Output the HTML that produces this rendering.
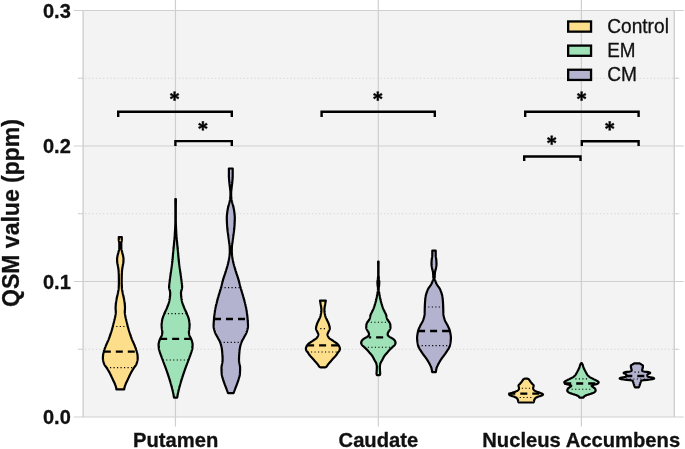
<!DOCTYPE html>
<html><head><meta charset="utf-8"><title>QSM violin plot</title>
<style>
html,body{margin:0;padding:0;background:#fff;}
body{width:685px;height:449px;overflow:hidden;font-family:"Liberation Sans",sans-serif;}
svg{display:block;will-change:opacity;}
</style></head>
<body>
<svg width="685" height="449" viewBox="0 0 685 449">
<rect x="83.1" y="10.5" width="591.1999999999999" height="406.5" fill="#F3F3F3"/>
<line x1="78.1" y1="349.25" x2="679.3" y2="349.25" stroke="#CFCFCF" stroke-width="1" stroke-dasharray="1 2.6"/>
<line x1="78.1" y1="349.25" x2="83.1" y2="349.25" stroke="#CFCFCF" stroke-width="1"/>
<line x1="674.3" y1="349.25" x2="679.3" y2="349.25" stroke="#CFCFCF" stroke-width="1"/>
<line x1="78.1" y1="213.75" x2="679.3" y2="213.75" stroke="#CFCFCF" stroke-width="1" stroke-dasharray="1 2.6"/>
<line x1="78.1" y1="213.75" x2="83.1" y2="213.75" stroke="#CFCFCF" stroke-width="1"/>
<line x1="674.3" y1="213.75" x2="679.3" y2="213.75" stroke="#CFCFCF" stroke-width="1"/>
<line x1="78.1" y1="78.25" x2="679.3" y2="78.25" stroke="#CFCFCF" stroke-width="1" stroke-dasharray="1 2.6"/>
<line x1="78.1" y1="78.25" x2="83.1" y2="78.25" stroke="#CFCFCF" stroke-width="1"/>
<line x1="674.3" y1="78.25" x2="679.3" y2="78.25" stroke="#CFCFCF" stroke-width="1"/>
<line x1="73.6" y1="417.00" x2="683.8" y2="417.00" stroke="#CFCFCF" stroke-width="1.2"/>
<line x1="73.6" y1="281.50" x2="683.8" y2="281.50" stroke="#CFCFCF" stroke-width="1.2"/>
<line x1="73.6" y1="146.00" x2="683.8" y2="146.00" stroke="#CFCFCF" stroke-width="1.2"/>
<line x1="73.6" y1="10.50" x2="683.8" y2="10.50" stroke="#CFCFCF" stroke-width="1.2"/>
<line x1="175.45" y1="0" x2="175.45" y2="426.5" stroke="#CFCFCF" stroke-width="1.2"/>
<line x1="378.3" y1="0" x2="378.3" y2="426.5" stroke="#CFCFCF" stroke-width="1.2"/>
<line x1="581.4" y1="0" x2="581.4" y2="426.5" stroke="#CFCFCF" stroke-width="1.2"/>
<line x1="83.1" y1="10.5" x2="83.1" y2="417.0" stroke="#CFCFCF" stroke-width="1.4"/>
<line x1="674.3" y1="10.5" x2="674.3" y2="417.0" stroke="#CFCFCF" stroke-width="1.4"/>
<path d="M118.80,237.10 L118.80,237.43 L118.80,237.77 L118.80,238.10 L118.80,238.43 L118.80,238.77 L118.80,239.10 L118.80,239.43 L118.80,239.77 L118.80,240.10 L118.83,240.43 L118.88,240.77 L118.95,241.10 L119.03,241.43 L119.12,241.77 L119.19,242.10 L119.25,242.43 L119.29,242.77 L119.30,243.10 L119.30,243.43 L119.30,243.77 L119.30,244.10 L119.30,244.43 L119.30,244.76 L119.30,245.10 L119.30,245.43 L119.30,245.76 L119.30,246.10 L119.30,246.43 L119.30,246.76 L119.30,247.10 L119.30,247.43 L119.30,247.76 L119.30,248.10 L119.28,248.43 L119.25,248.76 L119.20,249.10 L119.14,249.43 L119.07,249.76 L118.99,250.10 L118.90,250.43 L118.81,250.76 L118.72,251.10 L118.64,251.43 L118.55,251.76 L118.48,252.10 L118.40,252.43 L118.31,252.76 L118.22,253.10 L118.13,253.43 L118.04,253.76 L117.95,254.10 L117.86,254.43 L117.77,254.76 L117.69,255.10 L117.61,255.43 L117.54,255.76 L117.48,256.10 L117.42,256.43 L117.36,256.76 L117.30,257.10 L117.25,257.43 L117.20,257.76 L117.15,258.10 L117.12,258.43 L117.10,258.76 L117.10,259.10 L117.10,259.43 L117.11,259.76 L117.12,260.09 L117.13,260.43 L117.14,260.76 L117.15,261.09 L117.17,261.43 L117.19,261.76 L117.21,262.09 L117.23,262.43 L117.27,262.76 L117.32,263.09 L117.38,263.43 L117.45,263.76 L117.52,264.09 L117.59,264.43 L117.66,264.76 L117.73,265.09 L117.80,265.43 L117.86,265.76 L117.92,266.09 L117.97,266.43 L118.03,266.76 L118.08,267.09 L118.14,267.43 L118.20,267.76 L118.25,268.09 L118.30,268.43 L118.35,268.76 L118.40,269.09 L118.44,269.43 L118.48,269.76 L118.51,270.09 L118.54,270.43 L118.56,270.76 L118.59,271.09 L118.62,271.43 L118.64,271.76 L118.66,272.09 L118.68,272.43 L118.71,272.76 L118.72,273.09 L118.74,273.43 L118.76,273.76 L118.77,274.09 L118.78,274.43 L118.79,274.76 L118.80,275.09 L118.81,275.42 L118.82,275.76 L118.83,276.09 L118.83,276.42 L118.84,276.76 L118.85,277.09 L118.85,277.42 L118.86,277.76 L118.86,278.09 L118.87,278.42 L118.87,278.76 L118.88,279.09 L118.88,279.42 L118.89,279.76 L118.89,280.09 L118.89,280.42 L118.90,280.76 L118.90,281.09 L118.90,281.42 L118.90,281.76 L118.90,282.09 L118.90,282.42 L118.90,282.76 L118.89,283.09 L118.89,283.42 L118.88,283.76 L118.87,284.09 L118.86,284.42 L118.85,284.76 L118.84,285.09 L118.83,285.42 L118.81,285.76 L118.80,286.09 L118.78,286.42 L118.77,286.76 L118.75,287.09 L118.73,287.42 L118.71,287.76 L118.69,288.09 L118.67,288.42 L118.64,288.76 L118.60,289.09 L118.56,289.42 L118.51,289.76 L118.45,290.09 L118.39,290.42 L118.33,290.75 L118.27,291.09 L118.21,291.42 L118.14,291.75 L118.08,292.09 L118.01,292.42 L117.95,292.75 L117.88,293.09 L117.82,293.42 L117.75,293.75 L117.68,294.09 L117.61,294.42 L117.53,294.75 L117.45,295.09 L117.37,295.42 L117.30,295.75 L117.22,296.09 L117.14,296.42 L117.06,296.75 L116.99,297.09 L116.92,297.42 L116.85,297.75 L116.78,298.09 L116.72,298.42 L116.65,298.75 L116.59,299.09 L116.52,299.42 L116.46,299.75 L116.39,300.09 L116.34,300.42 L116.28,300.75 L116.22,301.09 L116.18,301.42 L116.13,301.75 L116.09,302.09 L116.05,302.42 L116.01,302.75 L115.97,303.09 L115.93,303.42 L115.90,303.75 L115.86,304.09 L115.82,304.42 L115.79,304.75 L115.76,305.09 L115.72,305.42 L115.70,305.75 L115.67,306.08 L115.65,306.42 L115.63,306.75 L115.62,307.08 L115.61,307.42 L115.60,307.75 L115.60,308.08 L115.61,308.42 L115.62,308.75 L115.64,309.08 L115.66,309.42 L115.68,309.75 L115.71,310.08 L115.73,310.42 L115.75,310.75 L115.77,311.08 L115.79,311.42 L115.80,311.75 L115.80,312.08 L115.79,312.42 L115.77,312.75 L115.74,313.08 L115.71,313.42 L115.67,313.75 L115.62,314.08 L115.57,314.42 L115.51,314.75 L115.45,315.08 L115.40,315.42 L115.34,315.75 L115.29,316.08 L115.23,316.42 L115.16,316.75 L115.10,317.08 L115.02,317.42 L114.95,317.75 L114.87,318.08 L114.79,318.42 L114.71,318.75 L114.62,319.08 L114.54,319.42 L114.46,319.75 L114.38,320.08 L114.30,320.42 L114.22,320.75 L114.14,321.08 L114.05,321.41 L113.97,321.75 L113.89,322.08 L113.80,322.41 L113.72,322.75 L113.63,323.08 L113.55,323.41 L113.46,323.75 L113.38,324.08 L113.30,324.41 L113.22,324.75 L113.13,325.08 L113.05,325.41 L112.97,325.75 L112.89,326.08 L112.81,326.41 L112.73,326.75 L112.64,327.08 L112.56,327.41 L112.47,327.75 L112.38,328.08 L112.29,328.41 L112.19,328.75 L112.09,329.08 L112.00,329.41 L111.90,329.75 L111.80,330.08 L111.69,330.41 L111.59,330.75 L111.49,331.08 L111.38,331.41 L111.28,331.75 L111.18,332.08 L111.07,332.41 L110.97,332.75 L110.86,333.08 L110.76,333.41 L110.65,333.75 L110.54,334.08 L110.43,334.41 L110.33,334.75 L110.21,335.08 L110.10,335.41 L109.99,335.75 L109.87,336.08 L109.76,336.41 L109.64,336.74 L109.52,337.08 L109.40,337.41 L109.28,337.74 L109.15,338.08 L109.03,338.41 L108.90,338.74 L108.77,339.08 L108.64,339.41 L108.50,339.74 L108.37,340.08 L108.23,340.41 L108.08,340.74 L107.93,341.08 L107.78,341.41 L107.63,341.74 L107.47,342.08 L107.32,342.41 L107.16,342.74 L107.01,343.08 L106.86,343.41 L106.71,343.74 L106.57,344.08 L106.43,344.41 L106.29,344.74 L106.15,345.08 L106.01,345.41 L105.87,345.74 L105.74,346.08 L105.61,346.41 L105.47,346.74 L105.35,347.08 L105.22,347.41 L105.09,347.74 L104.97,348.08 L104.85,348.41 L104.73,348.74 L104.61,349.08 L104.50,349.41 L104.38,349.74 L104.28,350.08 L104.17,350.41 L104.07,350.74 L103.98,351.08 L103.89,351.41 L103.80,351.74 L103.70,352.07 L103.61,352.41 L103.53,352.74 L103.44,353.07 L103.36,353.41 L103.29,353.74 L103.23,354.07 L103.17,354.41 L103.13,354.74 L103.09,355.07 L103.06,355.41 L103.03,355.74 L103.00,356.07 L102.98,356.41 L102.96,356.74 L102.94,357.07 L102.92,357.41 L102.91,357.74 L102.90,358.07 L102.90,358.41 L102.91,358.74 L102.94,359.07 L102.98,359.41 L103.04,359.74 L103.10,360.07 L103.16,360.41 L103.23,360.74 L103.31,361.07 L103.38,361.41 L103.45,361.74 L103.54,362.07 L103.63,362.41 L103.73,362.74 L103.84,363.07 L103.96,363.41 L104.08,363.74 L104.22,364.07 L104.36,364.41 L104.52,364.74 L104.70,365.07 L104.91,365.41 L105.15,365.74 L105.39,366.07 L105.64,366.41 L105.89,366.74 L106.14,367.07 L106.37,367.40 L106.59,367.74 L106.80,368.07 L107.02,368.40 L107.23,368.74 L107.44,369.07 L107.66,369.40 L107.86,369.74 L108.07,370.07 L108.27,370.40 L108.47,370.74 L108.67,371.07 L108.86,371.40 L109.05,371.74 L109.24,372.07 L109.42,372.40 L109.60,372.74 L109.77,373.07 L109.94,373.40 L110.10,373.74 L110.27,374.07 L110.43,374.40 L110.59,374.74 L110.75,375.07 L110.91,375.40 L111.07,375.74 L111.23,376.07 L111.39,376.40 L111.55,376.74 L111.70,377.07 L111.86,377.40 L112.01,377.74 L112.17,378.07 L112.32,378.40 L112.47,378.74 L112.62,379.07 L112.77,379.40 L112.93,379.74 L113.08,380.07 L113.24,380.40 L113.40,380.74 L113.56,381.07 L113.72,381.40 L113.89,381.74 L114.05,382.07 L114.21,382.40 L114.36,382.73 L114.51,383.07 L114.66,383.40 L114.80,383.73 L114.93,384.07 L115.05,384.40 L115.18,384.73 L115.31,385.07 L115.43,385.40 L115.55,385.73 L115.67,386.07 L115.78,386.40 L115.89,386.73 L115.98,387.07 L116.07,387.40 L116.15,387.73 L116.21,388.07 L116.27,388.40 L116.32,388.73 L116.36,389.07 L116.40,389.40 L124.20,389.40 L124.24,389.07 L124.28,388.73 L124.33,388.40 L124.39,388.07 L124.45,387.73 L124.53,387.40 L124.62,387.07 L124.71,386.73 L124.82,386.40 L124.93,386.07 L125.05,385.73 L125.17,385.40 L125.29,385.07 L125.42,384.73 L125.55,384.40 L125.67,384.07 L125.80,383.73 L125.94,383.40 L126.09,383.07 L126.24,382.73 L126.39,382.40 L126.55,382.07 L126.71,381.74 L126.88,381.40 L127.04,381.07 L127.20,380.74 L127.36,380.40 L127.52,380.07 L127.67,379.74 L127.83,379.40 L127.98,379.07 L128.13,378.74 L128.28,378.40 L128.43,378.07 L128.59,377.74 L128.74,377.40 L128.90,377.07 L129.05,376.74 L129.21,376.40 L129.37,376.07 L129.53,375.74 L129.69,375.40 L129.85,375.07 L130.01,374.74 L130.17,374.40 L130.33,374.07 L130.50,373.74 L130.66,373.40 L130.83,373.07 L131.00,372.74 L131.18,372.40 L131.36,372.07 L131.55,371.74 L131.74,371.40 L131.93,371.07 L132.13,370.74 L132.33,370.40 L132.53,370.07 L132.74,369.74 L132.94,369.40 L133.16,369.07 L133.37,368.74 L133.58,368.40 L133.80,368.07 L134.01,367.74 L134.23,367.40 L134.46,367.07 L134.71,366.74 L134.96,366.41 L135.21,366.07 L135.45,365.74 L135.69,365.41 L135.90,365.07 L136.08,364.74 L136.24,364.41 L136.38,364.07 L136.52,363.74 L136.64,363.41 L136.76,363.07 L136.87,362.74 L136.97,362.41 L137.06,362.07 L137.15,361.74 L137.22,361.41 L137.29,361.07 L137.37,360.74 L137.44,360.41 L137.50,360.07 L137.56,359.74 L137.62,359.41 L137.66,359.07 L137.69,358.74 L137.70,358.41 L137.70,358.07 L137.69,357.74 L137.68,357.41 L137.66,357.07 L137.64,356.74 L137.62,356.41 L137.60,356.07 L137.57,355.74 L137.54,355.41 L137.51,355.07 L137.47,354.74 L137.43,354.41 L137.37,354.07 L137.31,353.74 L137.24,353.41 L137.16,353.07 L137.07,352.74 L136.99,352.41 L136.90,352.07 L136.80,351.74 L136.71,351.41 L136.62,351.08 L136.53,350.74 L136.43,350.41 L136.32,350.08 L136.22,349.74 L136.10,349.41 L135.99,349.08 L135.87,348.74 L135.75,348.41 L135.63,348.08 L135.51,347.74 L135.38,347.41 L135.25,347.08 L135.13,346.74 L134.99,346.41 L134.86,346.08 L134.73,345.74 L134.59,345.41 L134.45,345.08 L134.31,344.74 L134.17,344.41 L134.03,344.08 L133.89,343.74 L133.74,343.41 L133.59,343.08 L133.44,342.74 L133.28,342.41 L133.13,342.08 L132.97,341.74 L132.82,341.41 L132.67,341.08 L132.52,340.74 L132.37,340.41 L132.23,340.08 L132.10,339.74 L131.96,339.41 L131.83,339.08 L131.70,338.74 L131.57,338.41 L131.45,338.08 L131.32,337.74 L131.20,337.41 L131.08,337.08 L130.96,336.74 L130.84,336.41 L130.73,336.08 L130.61,335.75 L130.50,335.41 L130.39,335.08 L130.27,334.75 L130.17,334.41 L130.06,334.08 L129.95,333.75 L129.84,333.41 L129.74,333.08 L129.63,332.75 L129.53,332.41 L129.42,332.08 L129.32,331.75 L129.22,331.41 L129.11,331.08 L129.01,330.75 L128.91,330.41 L128.80,330.08 L128.70,329.75 L128.60,329.41 L128.51,329.08 L128.41,328.75 L128.31,328.41 L128.22,328.08 L128.13,327.75 L128.04,327.41 L127.96,327.08 L127.87,326.75 L127.79,326.41 L127.71,326.08 L127.63,325.75 L127.55,325.41 L127.47,325.08 L127.38,324.75 L127.30,324.41 L127.22,324.08 L127.14,323.75 L127.05,323.41 L126.97,323.08 L126.88,322.75 L126.80,322.41 L126.71,322.08 L126.63,321.75 L126.55,321.41 L126.46,321.08 L126.38,320.75 L126.30,320.42 L126.22,320.08 L126.14,319.75 L126.06,319.42 L125.98,319.08 L125.89,318.75 L125.81,318.42 L125.73,318.08 L125.65,317.75 L125.58,317.42 L125.50,317.08 L125.44,316.75 L125.37,316.42 L125.31,316.08 L125.26,315.75 L125.20,315.42 L125.15,315.08 L125.09,314.75 L125.03,314.42 L124.98,314.08 L124.93,313.75 L124.89,313.42 L124.86,313.08 L124.83,312.75 L124.81,312.42 L124.80,312.08 L124.80,311.75 L124.81,311.42 L124.83,311.08 L124.85,310.75 L124.87,310.42 L124.89,310.08 L124.92,309.75 L124.94,309.42 L124.96,309.08 L124.98,308.75 L124.99,308.42 L125.00,308.08 L125.00,307.75 L124.99,307.42 L124.98,307.08 L124.97,306.75 L124.95,306.42 L124.93,306.08 L124.90,305.75 L124.88,305.42 L124.84,305.09 L124.81,304.75 L124.78,304.42 L124.74,304.09 L124.70,303.75 L124.67,303.42 L124.63,303.09 L124.59,302.75 L124.55,302.42 L124.51,302.09 L124.47,301.75 L124.42,301.42 L124.38,301.09 L124.32,300.75 L124.26,300.42 L124.21,300.09 L124.14,299.75 L124.08,299.42 L124.01,299.09 L123.95,298.75 L123.88,298.42 L123.82,298.09 L123.75,297.75 L123.68,297.42 L123.61,297.09 L123.54,296.75 L123.46,296.42 L123.38,296.09 L123.30,295.75 L123.23,295.42 L123.15,295.09 L123.07,294.75 L122.99,294.42 L122.92,294.09 L122.85,293.75 L122.78,293.42 L122.72,293.09 L122.65,292.75 L122.59,292.42 L122.52,292.09 L122.46,291.75 L122.39,291.42 L122.33,291.09 L122.27,290.75 L122.21,290.42 L122.15,290.09 L122.09,289.76 L122.04,289.42 L122.00,289.09 L121.96,288.76 L121.93,288.42 L121.91,288.09 L121.89,287.76 L121.87,287.42 L121.85,287.09 L121.83,286.76 L121.82,286.42 L121.80,286.09 L121.79,285.76 L121.77,285.42 L121.76,285.09 L121.75,284.76 L121.74,284.42 L121.73,284.09 L121.72,283.76 L121.71,283.42 L121.71,283.09 L121.70,282.76 L121.70,282.42 L121.70,282.09 L121.70,281.76 L121.70,281.42 L121.70,281.09 L121.70,280.76 L121.71,280.42 L121.71,280.09 L121.71,279.76 L121.72,279.42 L121.72,279.09 L121.73,278.76 L121.73,278.42 L121.74,278.09 L121.74,277.76 L121.75,277.42 L121.75,277.09 L121.76,276.76 L121.77,276.42 L121.77,276.09 L121.78,275.76 L121.79,275.42 L121.80,275.09 L121.81,274.76 L121.82,274.43 L121.83,274.09 L121.84,273.76 L121.86,273.43 L121.88,273.09 L121.89,272.76 L121.92,272.43 L121.94,272.09 L121.96,271.76 L121.98,271.43 L122.01,271.09 L122.04,270.76 L122.06,270.43 L122.09,270.09 L122.12,269.76 L122.16,269.43 L122.20,269.09 L122.25,268.76 L122.30,268.43 L122.35,268.09 L122.40,267.76 L122.46,267.43 L122.52,267.09 L122.57,266.76 L122.63,266.43 L122.68,266.09 L122.74,265.76 L122.80,265.43 L122.87,265.09 L122.94,264.76 L123.01,264.43 L123.08,264.09 L123.15,263.76 L123.22,263.43 L123.28,263.09 L123.33,262.76 L123.37,262.43 L123.39,262.09 L123.41,261.76 L123.43,261.43 L123.45,261.09 L123.46,260.76 L123.47,260.43 L123.48,260.09 L123.49,259.76 L123.50,259.43 L123.50,259.10 L123.50,258.76 L123.48,258.43 L123.45,258.10 L123.40,257.76 L123.35,257.43 L123.30,257.10 L123.24,256.76 L123.18,256.43 L123.12,256.10 L123.06,255.76 L122.99,255.43 L122.91,255.10 L122.83,254.76 L122.74,254.43 L122.65,254.10 L122.56,253.76 L122.47,253.43 L122.38,253.10 L122.29,252.76 L122.20,252.43 L122.12,252.10 L122.05,251.76 L121.96,251.43 L121.88,251.10 L121.79,250.76 L121.70,250.43 L121.61,250.10 L121.53,249.76 L121.46,249.43 L121.40,249.10 L121.35,248.76 L121.32,248.43 L121.30,248.10 L121.30,247.76 L121.30,247.43 L121.30,247.10 L121.30,246.76 L121.30,246.43 L121.30,246.10 L121.30,245.76 L121.30,245.43 L121.30,245.10 L121.30,244.76 L121.30,244.43 L121.30,244.10 L121.30,243.77 L121.30,243.43 L121.30,243.10 L121.31,242.77 L121.35,242.43 L121.41,242.10 L121.48,241.77 L121.57,241.43 L121.65,241.10 L121.72,240.77 L121.77,240.43 L121.80,240.10 L121.80,239.77 L121.80,239.43 L121.80,239.10 L121.80,238.77 L121.80,238.43 L121.80,238.10 L121.80,237.77 L121.80,237.43 L121.80,237.10 Z" fill="#FDDE8A" stroke="#000" stroke-width="2.2" stroke-linejoin="round"/>
<line x1="112.79" y1="326.50" x2="127.81" y2="326.50" stroke="#000" stroke-width="1.15" stroke-dasharray="1.15 2.35"/>
<line x1="106.50" y1="367.60" x2="134.10" y2="367.60" stroke="#000" stroke-width="1.15" stroke-dasharray="1.15 2.35"/>
<line x1="103.81" y1="351.70" x2="136.79" y2="351.70" stroke="#000" stroke-width="2.3" stroke-dasharray="7 5" stroke-dashoffset="0"/>
<path d="M175.30,199.10 L175.30,199.43 L175.31,199.77 L175.31,200.10 L175.32,200.43 L175.32,200.77 L175.33,201.10 L175.33,201.43 L175.34,201.77 L175.34,202.10 L175.34,202.43 L175.35,202.77 L175.35,203.10 L175.36,203.43 L175.36,203.77 L175.36,204.10 L175.37,204.43 L175.37,204.76 L175.37,205.10 L175.38,205.43 L175.38,205.76 L175.38,206.10 L175.39,206.43 L175.39,206.76 L175.39,207.10 L175.39,207.43 L175.39,207.76 L175.40,208.10 L175.40,208.43 L175.40,208.76 L175.40,209.10 L175.40,209.43 L175.40,209.76 L175.40,210.10 L175.40,210.43 L175.40,210.76 L175.40,211.10 L175.40,211.43 L175.40,211.76 L175.40,212.10 L175.40,212.43 L175.40,212.76 L175.40,213.10 L175.40,213.43 L175.40,213.76 L175.40,214.09 L175.40,214.43 L175.40,214.76 L175.40,215.09 L175.40,215.43 L175.40,215.76 L175.40,216.09 L175.40,216.43 L175.40,216.76 L175.40,217.09 L175.40,217.43 L175.40,217.76 L175.40,218.09 L175.40,218.43 L175.40,218.76 L175.40,219.09 L175.40,219.43 L175.40,219.76 L175.40,220.09 L175.40,220.43 L175.40,220.76 L175.39,221.09 L175.39,221.43 L175.38,221.76 L175.37,222.09 L175.37,222.43 L175.36,222.76 L175.35,223.09 L175.34,223.43 L175.33,223.76 L175.32,224.09 L175.30,224.42 L175.29,224.76 L175.28,225.09 L175.27,225.42 L175.26,225.76 L175.25,226.09 L175.24,226.42 L175.22,226.76 L175.21,227.09 L175.20,227.42 L175.18,227.76 L175.17,228.09 L175.15,228.42 L175.13,228.76 L175.12,229.09 L175.10,229.42 L175.08,229.76 L175.06,230.09 L175.04,230.42 L175.02,230.76 L175.00,231.09 L174.98,231.42 L174.96,231.76 L174.94,232.09 L174.92,232.42 L174.90,232.76 L174.88,233.09 L174.86,233.42 L174.83,233.76 L174.81,234.09 L174.78,234.42 L174.76,234.75 L174.73,235.09 L174.71,235.42 L174.68,235.75 L174.65,236.09 L174.63,236.42 L174.60,236.75 L174.57,237.09 L174.55,237.42 L174.52,237.75 L174.49,238.09 L174.47,238.42 L174.44,238.75 L174.41,239.09 L174.39,239.42 L174.36,239.75 L174.33,240.09 L174.30,240.42 L174.27,240.75 L174.25,241.09 L174.22,241.42 L174.19,241.75 L174.16,242.09 L174.13,242.42 L174.10,242.75 L174.07,243.09 L174.04,243.42 L174.01,243.75 L173.98,244.08 L173.95,244.42 L173.92,244.75 L173.89,245.08 L173.86,245.42 L173.83,245.75 L173.80,246.08 L173.76,246.42 L173.73,246.75 L173.70,247.08 L173.66,247.42 L173.63,247.75 L173.59,248.08 L173.56,248.42 L173.53,248.75 L173.49,249.08 L173.46,249.42 L173.42,249.75 L173.39,250.08 L173.35,250.42 L173.32,250.75 L173.29,251.08 L173.26,251.42 L173.22,251.75 L173.19,252.08 L173.16,252.42 L173.13,252.75 L173.10,253.08 L173.07,253.42 L173.05,253.75 L173.02,254.08 L172.99,254.41 L172.96,254.75 L172.94,255.08 L172.91,255.41 L172.88,255.75 L172.85,256.08 L172.83,256.41 L172.80,256.75 L172.77,257.08 L172.74,257.41 L172.71,257.75 L172.68,258.08 L172.65,258.41 L172.62,258.75 L172.59,259.08 L172.56,259.41 L172.53,259.75 L172.49,260.08 L172.46,260.41 L172.42,260.75 L172.38,261.08 L172.34,261.41 L172.31,261.75 L172.27,262.08 L172.22,262.41 L172.18,262.75 L172.14,263.08 L172.10,263.41 L172.06,263.74 L172.01,264.08 L171.97,264.41 L171.92,264.74 L171.88,265.08 L171.83,265.41 L171.79,265.74 L171.74,266.08 L171.70,266.41 L171.65,266.74 L171.60,267.08 L171.56,267.41 L171.51,267.74 L171.46,268.08 L171.42,268.41 L171.37,268.74 L171.33,269.08 L171.28,269.41 L171.23,269.74 L171.19,270.08 L171.14,270.41 L171.10,270.74 L171.05,271.08 L171.00,271.41 L170.96,271.74 L170.91,272.08 L170.86,272.41 L170.81,272.74 L170.76,273.08 L170.71,273.41 L170.66,273.74 L170.61,274.07 L170.56,274.41 L170.51,274.74 L170.46,275.07 L170.42,275.41 L170.37,275.74 L170.32,276.07 L170.27,276.41 L170.22,276.74 L170.18,277.07 L170.13,277.41 L170.09,277.74 L170.04,278.07 L170.00,278.41 L169.95,278.74 L169.91,279.07 L169.87,279.41 L169.83,279.74 L169.79,280.07 L169.75,280.41 L169.71,280.74 L169.67,281.07 L169.62,281.41 L169.58,281.74 L169.53,282.07 L169.49,282.41 L169.45,282.74 L169.40,283.07 L169.36,283.41 L169.32,283.74 L169.28,284.07 L169.25,284.40 L169.21,284.74 L169.19,285.07 L169.16,285.40 L169.14,285.74 L169.12,286.07 L169.11,286.40 L169.10,286.74 L169.10,287.07 L169.11,287.40 L169.15,287.74 L169.19,288.07 L169.25,288.40 L169.32,288.74 L169.40,289.07 L169.49,289.40 L169.58,289.74 L169.67,290.07 L169.76,290.40 L169.85,290.74 L169.93,291.07 L170.01,291.40 L170.07,291.74 L170.13,292.07 L170.17,292.40 L170.19,292.74 L170.20,293.07 L170.20,293.40 L170.19,293.73 L170.18,294.07 L170.16,294.40 L170.14,294.73 L170.12,295.07 L170.09,295.40 L170.06,295.73 L170.03,296.07 L169.99,296.40 L169.96,296.73 L169.92,297.07 L169.87,297.40 L169.83,297.73 L169.78,298.07 L169.74,298.40 L169.69,298.73 L169.64,299.07 L169.59,299.40 L169.54,299.73 L169.49,300.07 L169.43,300.40 L169.37,300.73 L169.30,301.07 L169.22,301.40 L169.14,301.73 L169.05,302.07 L168.95,302.40 L168.85,302.73 L168.75,303.07 L168.64,303.40 L168.52,303.73 L168.41,304.06 L168.29,304.40 L168.16,304.73 L168.04,305.06 L167.91,305.40 L167.78,305.73 L167.65,306.06 L167.52,306.40 L167.39,306.73 L167.26,307.06 L167.13,307.40 L167.00,307.73 L166.88,308.06 L166.74,308.40 L166.61,308.73 L166.46,309.06 L166.31,309.40 L166.16,309.73 L166.00,310.06 L165.84,310.40 L165.68,310.73 L165.52,311.06 L165.36,311.40 L165.20,311.73 L165.04,312.06 L164.89,312.40 L164.73,312.73 L164.59,313.06 L164.44,313.39 L164.31,313.73 L164.18,314.06 L164.05,314.39 L163.92,314.73 L163.79,315.06 L163.65,315.39 L163.52,315.73 L163.39,316.06 L163.27,316.39 L163.14,316.73 L163.02,317.06 L162.90,317.39 L162.79,317.73 L162.68,318.06 L162.58,318.39 L162.49,318.73 L162.40,319.06 L162.32,319.39 L162.25,319.73 L162.19,320.06 L162.13,320.39 L162.07,320.73 L162.02,321.06 L161.96,321.39 L161.91,321.73 L161.85,322.06 L161.81,322.39 L161.76,322.73 L161.72,323.06 L161.69,323.39 L161.66,323.72 L161.63,324.06 L161.61,324.39 L161.60,324.72 L161.60,325.06 L161.60,325.39 L161.62,325.72 L161.63,326.06 L161.65,326.39 L161.68,326.72 L161.71,327.06 L161.74,327.39 L161.77,327.72 L161.80,328.06 L161.84,328.39 L161.87,328.72 L161.91,329.06 L161.95,329.39 L162.00,329.72 L162.06,330.06 L162.12,330.39 L162.17,330.72 L162.23,331.06 L162.27,331.39 L162.29,331.72 L162.30,332.06 L162.29,332.39 L162.27,332.72 L162.24,333.06 L162.19,333.39 L162.14,333.72 L162.09,334.05 L162.02,334.39 L161.96,334.72 L161.89,335.05 L161.79,335.39 L161.67,335.72 L161.51,336.05 L161.34,336.39 L161.16,336.72 L160.98,337.05 L160.80,337.39 L160.63,337.72 L160.48,338.05 L160.33,338.39 L160.18,338.72 L160.03,339.05 L159.89,339.39 L159.75,339.72 L159.61,340.05 L159.49,340.39 L159.38,340.72 L159.29,341.05 L159.19,341.39 L159.10,341.72 L159.01,342.05 L158.92,342.39 L158.84,342.72 L158.77,343.05 L158.70,343.38 L158.65,343.72 L158.62,344.05 L158.60,344.38 L158.60,344.72 L158.61,345.05 L158.62,345.38 L158.63,345.72 L158.65,346.05 L158.67,346.38 L158.69,346.72 L158.72,347.05 L158.75,347.38 L158.77,347.72 L158.80,348.05 L158.84,348.38 L158.90,348.72 L158.96,349.05 L159.04,349.38 L159.12,349.72 L159.21,350.05 L159.31,350.38 L159.41,350.72 L159.51,351.05 L159.61,351.38 L159.72,351.72 L159.81,352.05 L159.92,352.38 L160.02,352.72 L160.13,353.05 L160.25,353.38 L160.36,353.71 L160.48,354.05 L160.60,354.38 L160.73,354.71 L160.85,355.05 L160.97,355.38 L161.10,355.71 L161.22,356.05 L161.34,356.38 L161.46,356.71 L161.59,357.05 L161.71,357.38 L161.84,357.71 L161.96,358.05 L162.09,358.38 L162.22,358.71 L162.34,359.05 L162.47,359.38 L162.59,359.71 L162.72,360.05 L162.84,360.38 L162.97,360.71 L163.09,361.05 L163.21,361.38 L163.34,361.71 L163.46,362.05 L163.59,362.38 L163.71,362.71 L163.84,363.04 L163.97,363.38 L164.09,363.71 L164.22,364.04 L164.34,364.38 L164.47,364.71 L164.59,365.04 L164.72,365.38 L164.84,365.71 L164.96,366.04 L165.09,366.38 L165.21,366.71 L165.33,367.04 L165.46,367.38 L165.58,367.71 L165.70,368.04 L165.82,368.38 L165.94,368.71 L166.06,369.04 L166.18,369.38 L166.30,369.71 L166.42,370.04 L166.54,370.38 L166.65,370.71 L166.77,371.04 L166.89,371.38 L167.00,371.71 L167.11,372.04 L167.23,372.38 L167.34,372.71 L167.45,373.04 L167.56,373.37 L167.68,373.71 L167.79,374.04 L167.90,374.37 L168.01,374.71 L168.12,375.04 L168.23,375.37 L168.34,375.71 L168.45,376.04 L168.56,376.37 L168.66,376.71 L168.77,377.04 L168.88,377.37 L168.99,377.71 L169.09,378.04 L169.20,378.37 L169.30,378.71 L169.41,379.04 L169.51,379.37 L169.62,379.71 L169.72,380.04 L169.82,380.37 L169.92,380.71 L170.03,381.04 L170.13,381.37 L170.23,381.71 L170.33,382.04 L170.43,382.37 L170.52,382.71 L170.62,383.04 L170.72,383.37 L170.82,383.70 L170.91,384.04 L171.01,384.37 L171.10,384.70 L171.19,385.04 L171.29,385.37 L171.38,385.70 L171.47,386.04 L171.56,386.37 L171.65,386.70 L171.74,387.04 L171.83,387.37 L171.92,387.70 L172.01,388.04 L172.09,388.37 L172.18,388.70 L172.26,389.04 L172.35,389.37 L172.43,389.70 L172.51,390.04 L172.59,390.37 L172.67,390.70 L172.75,391.04 L172.83,391.37 L172.91,391.70 L172.98,392.04 L173.06,392.37 L173.13,392.70 L173.21,393.03 L173.27,393.37 L173.34,393.70 L173.41,394.03 L173.47,394.37 L173.52,394.70 L173.57,395.03 L173.62,395.37 L173.67,395.70 L173.72,396.03 L173.77,396.37 L173.84,396.70 L173.91,397.03 L174.00,397.37 L174.10,397.70 L177.10,397.70 L177.20,397.37 L177.29,397.03 L177.36,396.70 L177.43,396.37 L177.48,396.03 L177.53,395.70 L177.58,395.37 L177.63,395.03 L177.68,394.70 L177.73,394.37 L177.79,394.03 L177.86,393.70 L177.93,393.37 L177.99,393.03 L178.07,392.70 L178.14,392.37 L178.22,392.04 L178.29,391.70 L178.37,391.37 L178.45,391.04 L178.53,390.70 L178.61,390.37 L178.69,390.04 L178.77,389.70 L178.85,389.37 L178.94,389.04 L179.02,388.70 L179.11,388.37 L179.19,388.04 L179.28,387.70 L179.37,387.37 L179.46,387.04 L179.55,386.70 L179.64,386.37 L179.73,386.04 L179.82,385.70 L179.91,385.37 L180.01,385.04 L180.10,384.70 L180.19,384.37 L180.29,384.04 L180.38,383.70 L180.48,383.37 L180.58,383.04 L180.68,382.71 L180.77,382.37 L180.87,382.04 L180.97,381.71 L181.07,381.37 L181.17,381.04 L181.28,380.71 L181.38,380.37 L181.48,380.04 L181.58,379.71 L181.69,379.37 L181.79,379.04 L181.90,378.71 L182.00,378.37 L182.11,378.04 L182.21,377.71 L182.32,377.37 L182.43,377.04 L182.54,376.71 L182.64,376.37 L182.75,376.04 L182.86,375.71 L182.97,375.37 L183.08,375.04 L183.19,374.71 L183.30,374.37 L183.41,374.04 L183.52,373.71 L183.64,373.37 L183.75,373.04 L183.86,372.71 L183.97,372.38 L184.09,372.04 L184.20,371.71 L184.31,371.38 L184.43,371.04 L184.55,370.71 L184.66,370.38 L184.78,370.04 L184.90,369.71 L185.02,369.38 L185.14,369.04 L185.26,368.71 L185.38,368.38 L185.50,368.04 L185.62,367.71 L185.74,367.38 L185.87,367.04 L185.99,366.71 L186.11,366.38 L186.24,366.04 L186.36,365.71 L186.48,365.38 L186.61,365.04 L186.73,364.71 L186.86,364.38 L186.98,364.04 L187.11,363.71 L187.23,363.38 L187.36,363.04 L187.49,362.71 L187.61,362.38 L187.74,362.05 L187.86,361.71 L187.99,361.38 L188.11,361.05 L188.23,360.71 L188.36,360.38 L188.48,360.05 L188.61,359.71 L188.73,359.38 L188.86,359.05 L188.98,358.71 L189.11,358.38 L189.24,358.05 L189.36,357.71 L189.49,357.38 L189.61,357.05 L189.74,356.71 L189.86,356.38 L189.98,356.05 L190.10,355.71 L190.23,355.38 L190.35,355.05 L190.47,354.71 L190.60,354.38 L190.72,354.05 L190.84,353.71 L190.95,353.38 L191.07,353.05 L191.18,352.72 L191.28,352.38 L191.39,352.05 L191.48,351.72 L191.59,351.38 L191.69,351.05 L191.79,350.72 L191.89,350.38 L191.99,350.05 L192.08,349.72 L192.16,349.38 L192.24,349.05 L192.30,348.72 L192.36,348.38 L192.40,348.05 L192.43,347.72 L192.45,347.38 L192.48,347.05 L192.51,346.72 L192.53,346.38 L192.55,346.05 L192.57,345.72 L192.58,345.38 L192.59,345.05 L192.60,344.72 L192.60,344.38 L192.58,344.05 L192.55,343.72 L192.50,343.38 L192.43,343.05 L192.36,342.72 L192.28,342.39 L192.19,342.05 L192.10,341.72 L192.01,341.39 L191.91,341.05 L191.82,340.72 L191.71,340.39 L191.59,340.05 L191.45,339.72 L191.31,339.39 L191.17,339.05 L191.02,338.72 L190.87,338.39 L190.72,338.05 L190.57,337.72 L190.40,337.39 L190.22,337.05 L190.04,336.72 L189.86,336.39 L189.69,336.05 L189.53,335.72 L189.41,335.39 L189.31,335.05 L189.24,334.72 L189.18,334.39 L189.11,334.05 L189.06,333.72 L189.01,333.39 L188.96,333.06 L188.93,332.72 L188.91,332.39 L188.90,332.06 L188.91,331.72 L188.93,331.39 L188.97,331.06 L189.03,330.72 L189.08,330.39 L189.14,330.06 L189.20,329.72 L189.25,329.39 L189.29,329.06 L189.33,328.72 L189.36,328.39 L189.40,328.06 L189.43,327.72 L189.46,327.39 L189.49,327.06 L189.52,326.72 L189.55,326.39 L189.57,326.06 L189.58,325.72 L189.60,325.39 L189.60,325.06 L189.60,324.72 L189.59,324.39 L189.57,324.06 L189.54,323.72 L189.51,323.39 L189.48,323.06 L189.44,322.73 L189.39,322.39 L189.35,322.06 L189.29,321.73 L189.24,321.39 L189.18,321.06 L189.13,320.73 L189.07,320.39 L189.01,320.06 L188.95,319.73 L188.88,319.39 L188.80,319.06 L188.71,318.73 L188.62,318.39 L188.52,318.06 L188.41,317.73 L188.30,317.39 L188.18,317.06 L188.06,316.73 L187.93,316.39 L187.81,316.06 L187.68,315.73 L187.55,315.39 L187.41,315.06 L187.28,314.73 L187.15,314.39 L187.02,314.06 L186.89,313.73 L186.76,313.39 L186.61,313.06 L186.47,312.73 L186.31,312.40 L186.16,312.06 L186.00,311.73 L185.84,311.40 L185.68,311.06 L185.52,310.73 L185.36,310.40 L185.20,310.06 L185.04,309.73 L184.89,309.40 L184.74,309.06 L184.59,308.73 L184.46,308.40 L184.32,308.06 L184.20,307.73 L184.07,307.40 L183.94,307.06 L183.81,306.73 L183.68,306.40 L183.55,306.06 L183.42,305.73 L183.29,305.40 L183.16,305.06 L183.04,304.73 L182.91,304.40 L182.79,304.06 L182.68,303.73 L182.56,303.40 L182.45,303.07 L182.35,302.73 L182.25,302.40 L182.15,302.07 L182.06,301.73 L181.98,301.40 L181.90,301.07 L181.83,300.73 L181.77,300.40 L181.71,300.07 L181.66,299.73 L181.61,299.40 L181.56,299.07 L181.51,298.73 L181.46,298.40 L181.42,298.07 L181.37,297.73 L181.33,297.40 L181.28,297.07 L181.24,296.73 L181.21,296.40 L181.17,296.07 L181.14,295.73 L181.11,295.40 L181.08,295.07 L181.06,294.73 L181.04,294.40 L181.02,294.07 L181.01,293.73 L181.00,293.40 L181.00,293.07 L181.01,292.74 L181.03,292.40 L181.07,292.07 L181.13,291.74 L181.19,291.40 L181.27,291.07 L181.35,290.74 L181.44,290.40 L181.53,290.07 L181.62,289.74 L181.71,289.40 L181.80,289.07 L181.88,288.74 L181.95,288.40 L182.01,288.07 L182.05,287.74 L182.09,287.40 L182.10,287.07 L182.10,286.74 L182.09,286.40 L182.08,286.07 L182.06,285.74 L182.04,285.40 L182.01,285.07 L181.99,284.74 L181.95,284.40 L181.92,284.07 L181.88,283.74 L181.84,283.41 L181.80,283.07 L181.75,282.74 L181.71,282.41 L181.67,282.07 L181.62,281.74 L181.58,281.41 L181.53,281.07 L181.49,280.74 L181.45,280.41 L181.41,280.07 L181.37,279.74 L181.33,279.41 L181.29,279.07 L181.25,278.74 L181.20,278.41 L181.16,278.07 L181.11,277.74 L181.07,277.41 L181.02,277.07 L180.98,276.74 L180.93,276.41 L180.88,276.07 L180.83,275.74 L180.78,275.41 L180.74,275.07 L180.69,274.74 L180.64,274.41 L180.59,274.07 L180.54,273.74 L180.49,273.41 L180.44,273.08 L180.39,272.74 L180.34,272.41 L180.29,272.08 L180.24,271.74 L180.20,271.41 L180.15,271.08 L180.10,270.74 L180.06,270.41 L180.01,270.08 L179.97,269.74 L179.92,269.41 L179.87,269.08 L179.83,268.74 L179.78,268.41 L179.74,268.08 L179.69,267.74 L179.64,267.41 L179.60,267.08 L179.55,266.74 L179.50,266.41 L179.46,266.08 L179.41,265.74 L179.37,265.41 L179.32,265.08 L179.28,264.74 L179.23,264.41 L179.19,264.08 L179.14,263.74 L179.10,263.41 L179.06,263.08 L179.02,262.75 L178.98,262.41 L178.93,262.08 L178.89,261.75 L178.86,261.41 L178.82,261.08 L178.78,260.75 L178.74,260.41 L178.71,260.08 L178.67,259.75 L178.64,259.41 L178.61,259.08 L178.58,258.75 L178.55,258.41 L178.52,258.08 L178.49,257.75 L178.46,257.41 L178.43,257.08 L178.40,256.75 L178.37,256.41 L178.35,256.08 L178.32,255.75 L178.29,255.41 L178.26,255.08 L178.24,254.75 L178.21,254.41 L178.18,254.08 L178.15,253.75 L178.13,253.42 L178.10,253.08 L178.07,252.75 L178.04,252.42 L178.01,252.08 L177.98,251.75 L177.94,251.42 L177.91,251.08 L177.88,250.75 L177.85,250.42 L177.81,250.08 L177.78,249.75 L177.74,249.42 L177.71,249.08 L177.67,248.75 L177.64,248.42 L177.61,248.08 L177.57,247.75 L177.54,247.42 L177.50,247.08 L177.47,246.75 L177.44,246.42 L177.40,246.08 L177.37,245.75 L177.34,245.42 L177.31,245.08 L177.28,244.75 L177.25,244.42 L177.22,244.08 L177.19,243.75 L177.16,243.42 L177.13,243.09 L177.10,242.75 L177.07,242.42 L177.04,242.09 L177.01,241.75 L176.98,241.42 L176.95,241.09 L176.93,240.75 L176.90,240.42 L176.87,240.09 L176.84,239.75 L176.81,239.42 L176.79,239.09 L176.76,238.75 L176.73,238.42 L176.71,238.09 L176.68,237.75 L176.65,237.42 L176.63,237.09 L176.60,236.75 L176.57,236.42 L176.55,236.09 L176.52,235.75 L176.49,235.42 L176.47,235.09 L176.44,234.75 L176.42,234.42 L176.39,234.09 L176.37,233.76 L176.34,233.42 L176.32,233.09 L176.30,232.76 L176.28,232.42 L176.26,232.09 L176.24,231.76 L176.22,231.42 L176.20,231.09 L176.18,230.76 L176.16,230.42 L176.14,230.09 L176.12,229.76 L176.10,229.42 L176.08,229.09 L176.07,228.76 L176.05,228.42 L176.03,228.09 L176.02,227.76 L176.00,227.42 L175.99,227.09 L175.98,226.76 L175.96,226.42 L175.95,226.09 L175.94,225.76 L175.93,225.42 L175.92,225.09 L175.91,224.76 L175.90,224.42 L175.88,224.09 L175.87,223.76 L175.86,223.43 L175.85,223.09 L175.84,222.76 L175.83,222.43 L175.83,222.09 L175.82,221.76 L175.81,221.43 L175.81,221.09 L175.80,220.76 L175.80,220.43 L175.80,220.09 L175.80,219.76 L175.80,219.43 L175.80,219.09 L175.80,218.76 L175.80,218.43 L175.80,218.09 L175.80,217.76 L175.80,217.43 L175.80,217.09 L175.80,216.76 L175.80,216.43 L175.80,216.09 L175.80,215.76 L175.80,215.43 L175.80,215.09 L175.80,214.76 L175.80,214.43 L175.80,214.09 L175.80,213.76 L175.80,213.43 L175.80,213.10 L175.80,212.76 L175.80,212.43 L175.80,212.10 L175.80,211.76 L175.80,211.43 L175.80,211.10 L175.80,210.76 L175.80,210.43 L175.80,210.10 L175.80,209.76 L175.80,209.43 L175.80,209.10 L175.80,208.76 L175.80,208.43 L175.80,208.10 L175.81,207.76 L175.81,207.43 L175.81,207.10 L175.81,206.76 L175.81,206.43 L175.82,206.10 L175.82,205.76 L175.82,205.43 L175.83,205.10 L175.83,204.76 L175.83,204.43 L175.84,204.10 L175.84,203.77 L175.84,203.43 L175.85,203.10 L175.85,202.77 L175.86,202.43 L175.86,202.10 L175.86,201.77 L175.87,201.43 L175.87,201.10 L175.88,200.77 L175.88,200.43 L175.89,200.10 L175.89,199.77 L175.90,199.43 L175.90,199.10 Z" fill="#9FE2B7" stroke="#000" stroke-width="2.2" stroke-linejoin="round"/>
<line x1="164.36" y1="313.60" x2="186.84" y2="313.60" stroke="#000" stroke-width="1.15" stroke-dasharray="1.15 2.35"/>
<line x1="162.70" y1="360.00" x2="188.50" y2="360.00" stroke="#000" stroke-width="1.15" stroke-dasharray="1.15 2.35"/>
<line x1="160.15" y1="338.80" x2="191.05" y2="338.80" stroke="#000" stroke-width="2.3" stroke-dasharray="7 5" stroke-dashoffset="0"/>
<path d="M228.90,168.50 L228.90,168.83 L228.90,169.17 L228.90,169.50 L228.90,169.83 L228.90,170.16 L228.90,170.50 L228.90,170.83 L228.90,171.16 L228.90,171.50 L228.90,171.83 L228.90,172.16 L228.90,172.49 L228.90,172.83 L228.90,173.16 L228.90,173.49 L228.90,173.83 L228.90,174.16 L228.90,174.49 L228.90,174.82 L228.90,175.16 L228.90,175.49 L228.90,175.82 L228.90,176.16 L228.90,176.49 L228.91,176.82 L228.92,177.16 L228.94,177.49 L228.96,177.82 L228.98,178.15 L229.00,178.49 L229.02,178.82 L229.05,179.15 L229.08,179.49 L229.10,179.82 L229.13,180.15 L229.16,180.48 L229.19,180.82 L229.23,181.15 L229.25,181.48 L229.28,181.82 L229.31,182.15 L229.34,182.48 L229.38,182.81 L229.41,183.15 L229.45,183.48 L229.49,183.81 L229.53,184.15 L229.57,184.48 L229.61,184.81 L229.66,185.14 L229.70,185.48 L229.74,185.81 L229.78,186.14 L229.83,186.48 L229.87,186.81 L229.91,187.14 L229.94,187.47 L229.98,187.81 L230.01,188.14 L230.05,188.47 L230.09,188.81 L230.13,189.14 L230.17,189.47 L230.21,189.80 L230.25,190.14 L230.29,190.47 L230.32,190.80 L230.35,191.14 L230.38,191.47 L230.41,191.80 L230.43,192.14 L230.44,192.47 L230.45,192.80 L230.45,193.13 L230.45,193.47 L230.45,193.80 L230.45,194.13 L230.44,194.47 L230.44,194.80 L230.43,195.13 L230.43,195.46 L230.42,195.80 L230.42,196.13 L230.41,196.46 L230.40,196.80 L230.40,197.13 L230.38,197.46 L230.35,197.79 L230.31,198.13 L230.26,198.46 L230.21,198.79 L230.14,199.13 L230.08,199.46 L230.01,199.79 L229.93,200.12 L229.85,200.46 L229.78,200.79 L229.70,201.12 L229.62,201.46 L229.55,201.79 L229.47,202.12 L229.40,202.45 L229.32,202.79 L229.23,203.12 L229.14,203.45 L229.05,203.79 L228.96,204.12 L228.86,204.45 L228.77,204.78 L228.68,205.12 L228.58,205.45 L228.49,205.78 L228.41,206.12 L228.33,206.45 L228.25,206.78 L228.18,207.12 L228.10,207.45 L228.03,207.78 L227.97,208.11 L227.90,208.45 L227.83,208.78 L227.76,209.11 L227.70,209.45 L227.64,209.78 L227.58,210.11 L227.52,210.44 L227.47,210.78 L227.42,211.11 L227.37,211.44 L227.33,211.78 L227.29,212.11 L227.25,212.44 L227.21,212.77 L227.17,213.11 L227.13,213.44 L227.09,213.77 L227.06,214.11 L227.02,214.44 L226.99,214.77 L226.95,215.10 L226.92,215.44 L226.90,215.77 L226.87,216.10 L226.85,216.44 L226.83,216.77 L226.82,217.10 L226.81,217.43 L226.80,217.77 L226.80,218.10 L226.80,218.43 L226.80,218.77 L226.81,219.10 L226.82,219.43 L226.82,219.76 L226.83,220.10 L226.84,220.43 L226.86,220.76 L226.87,221.10 L226.88,221.43 L226.90,221.76 L226.91,222.10 L226.93,222.43 L226.94,222.76 L226.96,223.09 L226.97,223.43 L226.99,223.76 L227.00,224.09 L227.02,224.43 L227.04,224.76 L227.06,225.09 L227.08,225.42 L227.11,225.76 L227.13,226.09 L227.16,226.42 L227.19,226.76 L227.22,227.09 L227.25,227.42 L227.28,227.75 L227.31,228.09 L227.34,228.42 L227.37,228.75 L227.41,229.09 L227.44,229.42 L227.47,229.75 L227.51,230.08 L227.54,230.42 L227.58,230.75 L227.62,231.08 L227.66,231.42 L227.71,231.75 L227.75,232.08 L227.80,232.41 L227.84,232.75 L227.89,233.08 L227.94,233.41 L227.98,233.75 L228.03,234.08 L228.08,234.41 L228.13,234.74 L228.17,235.08 L228.22,235.41 L228.27,235.74 L228.31,236.08 L228.35,236.41 L228.40,236.74 L228.44,237.08 L228.49,237.41 L228.53,237.74 L228.58,238.07 L228.63,238.41 L228.67,238.74 L228.72,239.07 L228.76,239.41 L228.80,239.74 L228.85,240.07 L228.89,240.40 L228.94,240.74 L228.98,241.07 L229.02,241.40 L229.07,241.74 L229.11,242.07 L229.15,242.40 L229.20,242.73 L229.25,243.07 L229.30,243.40 L229.35,243.73 L229.40,244.07 L229.44,244.40 L229.49,244.73 L229.53,245.06 L229.57,245.40 L229.61,245.73 L229.64,246.06 L229.67,246.40 L229.69,246.73 L229.70,247.06 L229.71,247.39 L229.72,247.73 L229.73,248.06 L229.74,248.39 L229.75,248.73 L229.76,249.06 L229.77,249.39 L229.78,249.72 L229.78,250.06 L229.79,250.39 L229.79,250.72 L229.80,251.06 L229.80,251.39 L229.80,251.72 L229.80,252.06 L229.80,252.39 L229.78,252.72 L229.77,253.05 L229.74,253.39 L229.71,253.72 L229.68,254.05 L229.64,254.39 L229.60,254.72 L229.56,255.05 L229.52,255.38 L229.47,255.72 L229.43,256.05 L229.38,256.38 L229.34,256.72 L229.29,257.05 L229.25,257.38 L229.20,257.71 L229.15,258.05 L229.10,258.38 L229.04,258.71 L228.99,259.05 L228.93,259.38 L228.86,259.71 L228.80,260.04 L228.74,260.38 L228.67,260.71 L228.60,261.04 L228.53,261.38 L228.46,261.71 L228.39,262.04 L228.32,262.37 L228.24,262.71 L228.16,263.04 L228.08,263.37 L228.00,263.71 L227.92,264.04 L227.83,264.37 L227.74,264.70 L227.65,265.04 L227.56,265.37 L227.46,265.70 L227.37,266.04 L227.27,266.37 L227.18,266.70 L227.08,267.04 L226.98,267.37 L226.88,267.70 L226.79,268.03 L226.69,268.37 L226.59,268.70 L226.49,269.03 L226.39,269.37 L226.29,269.70 L226.19,270.03 L226.09,270.36 L225.99,270.70 L225.89,271.03 L225.78,271.36 L225.68,271.70 L225.57,272.03 L225.46,272.36 L225.36,272.69 L225.25,273.03 L225.14,273.36 L225.03,273.69 L224.92,274.03 L224.80,274.36 L224.69,274.69 L224.58,275.02 L224.47,275.36 L224.36,275.69 L224.25,276.02 L224.14,276.36 L224.03,276.69 L223.92,277.02 L223.81,277.35 L223.71,277.69 L223.60,278.02 L223.50,278.35 L223.39,278.69 L223.29,279.02 L223.19,279.35 L223.09,279.68 L222.99,280.02 L222.90,280.35 L222.81,280.68 L222.72,281.02 L222.63,281.35 L222.54,281.68 L222.45,282.02 L222.36,282.35 L222.27,282.68 L222.19,283.01 L222.10,283.35 L222.02,283.68 L221.93,284.01 L221.85,284.35 L221.77,284.68 L221.68,285.01 L221.60,285.34 L221.51,285.68 L221.43,286.01 L221.34,286.34 L221.25,286.68 L221.17,287.01 L221.08,287.34 L220.99,287.67 L220.90,288.01 L220.81,288.34 L220.71,288.67 L220.62,289.01 L220.52,289.34 L220.43,289.67 L220.33,290.00 L220.23,290.34 L220.13,290.67 L220.03,291.00 L219.93,291.34 L219.83,291.67 L219.73,292.00 L219.63,292.33 L219.53,292.67 L219.43,293.00 L219.32,293.33 L219.22,293.67 L219.12,294.00 L219.02,294.33 L218.92,294.66 L218.82,295.00 L218.72,295.33 L218.62,295.66 L218.52,296.00 L218.42,296.33 L218.32,296.66 L218.23,297.00 L218.13,297.33 L218.03,297.66 L217.94,297.99 L217.85,298.33 L217.76,298.66 L217.67,298.99 L217.58,299.33 L217.49,299.66 L217.40,299.99 L217.32,300.32 L217.23,300.66 L217.14,300.99 L217.06,301.32 L216.97,301.66 L216.89,301.99 L216.80,302.32 L216.72,302.65 L216.63,302.99 L216.55,303.32 L216.46,303.65 L216.38,303.99 L216.29,304.32 L216.21,304.65 L216.13,304.98 L216.05,305.32 L215.97,305.65 L215.90,305.98 L215.82,306.32 L215.75,306.65 L215.67,306.98 L215.60,307.31 L215.53,307.65 L215.46,307.98 L215.40,308.31 L215.34,308.65 L215.27,308.98 L215.21,309.31 L215.16,309.64 L215.10,309.98 L215.05,310.31 L215.00,310.64 L214.95,310.98 L214.90,311.31 L214.85,311.64 L214.80,311.98 L214.75,312.31 L214.70,312.64 L214.66,312.97 L214.61,313.31 L214.57,313.64 L214.52,313.97 L214.48,314.31 L214.44,314.64 L214.40,314.97 L214.36,315.30 L214.32,315.64 L214.28,315.97 L214.25,316.30 L214.21,316.64 L214.18,316.97 L214.15,317.30 L214.12,317.63 L214.09,317.97 L214.06,318.30 L214.03,318.63 L214.00,318.97 L213.98,319.30 L213.95,319.63 L213.92,319.96 L213.90,320.30 L213.87,320.63 L213.85,320.96 L213.82,321.30 L213.79,321.63 L213.77,321.96 L213.75,322.29 L213.72,322.63 L213.70,322.96 L213.68,323.29 L213.67,323.63 L213.65,323.96 L213.64,324.29 L213.62,324.62 L213.61,324.96 L213.61,325.29 L213.60,325.62 L213.60,325.96 L213.60,326.29 L213.62,326.62 L213.65,326.96 L213.69,327.29 L213.74,327.62 L213.79,327.95 L213.86,328.29 L213.93,328.62 L214.01,328.95 L214.09,329.29 L214.18,329.62 L214.28,329.95 L214.37,330.28 L214.47,330.62 L214.58,330.95 L214.68,331.28 L214.78,331.62 L214.88,331.95 L214.99,332.28 L215.11,332.61 L215.25,332.95 L215.40,333.28 L215.56,333.61 L215.73,333.95 L215.90,334.28 L216.08,334.61 L216.27,334.94 L216.46,335.28 L216.64,335.61 L216.83,335.94 L217.02,336.28 L217.20,336.61 L217.37,336.94 L217.54,337.27 L217.72,337.61 L217.90,337.94 L218.09,338.27 L218.28,338.61 L218.47,338.94 L218.65,339.27 L218.84,339.60 L219.02,339.94 L219.20,340.27 L219.37,340.60 L219.54,340.94 L219.69,341.27 L219.84,341.60 L219.98,341.94 L220.10,342.27 L220.22,342.60 L220.35,342.93 L220.46,343.27 L220.58,343.60 L220.69,343.93 L220.80,344.27 L220.90,344.60 L221.00,344.93 L221.09,345.26 L221.18,345.60 L221.27,345.93 L221.34,346.26 L221.42,346.60 L221.49,346.93 L221.55,347.26 L221.61,347.59 L221.67,347.93 L221.73,348.26 L221.78,348.59 L221.84,348.93 L221.89,349.26 L221.93,349.59 L221.98,349.92 L222.02,350.26 L222.06,350.59 L222.10,350.92 L222.13,351.26 L222.17,351.59 L222.19,351.92 L222.22,352.25 L222.24,352.59 L222.27,352.92 L222.29,353.25 L222.32,353.59 L222.34,353.92 L222.37,354.25 L222.39,354.58 L222.41,354.92 L222.43,355.25 L222.45,355.58 L222.47,355.92 L222.49,356.25 L222.51,356.58 L222.52,356.92 L222.54,357.25 L222.55,357.58 L222.56,357.91 L222.57,358.25 L222.58,358.58 L222.59,358.91 L222.59,359.25 L222.60,359.58 L222.60,359.91 L222.60,360.24 L222.58,360.58 L222.56,360.91 L222.53,361.24 L222.49,361.58 L222.44,361.91 L222.39,362.24 L222.33,362.57 L222.27,362.91 L222.20,363.24 L222.14,363.57 L222.07,363.91 L222.00,364.24 L221.93,364.57 L221.87,364.90 L221.80,365.24 L221.74,365.57 L221.69,365.90 L221.64,366.24 L221.59,366.57 L221.56,366.90 L221.53,367.23 L221.51,367.57 L221.50,367.90 L221.50,368.23 L221.50,368.57 L221.51,368.90 L221.51,369.23 L221.52,369.56 L221.52,369.90 L221.53,370.23 L221.54,370.56 L221.55,370.90 L221.56,371.23 L221.58,371.56 L221.59,371.90 L221.61,372.23 L221.62,372.56 L221.64,372.89 L221.66,373.23 L221.67,373.56 L221.69,373.89 L221.72,374.23 L221.75,374.56 L221.80,374.89 L221.86,375.22 L221.93,375.56 L222.00,375.89 L222.09,376.22 L222.18,376.56 L222.27,376.89 L222.37,377.22 L222.47,377.55 L222.57,377.89 L222.67,378.22 L222.77,378.55 L222.87,378.89 L222.96,379.22 L223.06,379.55 L223.16,379.88 L223.27,380.22 L223.38,380.55 L223.49,380.88 L223.60,381.22 L223.72,381.55 L223.84,381.88 L223.95,382.21 L224.07,382.55 L224.19,382.88 L224.32,383.21 L224.44,383.55 L224.56,383.88 L224.68,384.21 L224.80,384.54 L224.92,384.88 L225.05,385.21 L225.17,385.54 L225.30,385.88 L225.43,386.21 L225.56,386.54 L225.69,386.88 L225.82,387.21 L225.95,387.54 L226.08,387.87 L226.21,388.21 L226.34,388.54 L226.47,388.87 L226.60,389.21 L226.72,389.54 L226.85,389.87 L226.98,390.20 L227.10,390.54 L227.23,390.87 L227.35,391.20 L227.48,391.54 L227.60,391.87 L227.73,392.20 L227.85,392.53 L227.98,392.87 L228.10,393.20 L233.50,393.20 L233.62,392.87 L233.75,392.53 L233.87,392.20 L234.00,391.87 L234.12,391.54 L234.25,391.20 L234.37,390.87 L234.50,390.54 L234.62,390.20 L234.75,389.87 L234.88,389.54 L235.00,389.21 L235.13,388.87 L235.26,388.54 L235.39,388.21 L235.52,387.87 L235.65,387.54 L235.78,387.21 L235.91,386.88 L236.04,386.54 L236.17,386.21 L236.30,385.88 L236.43,385.54 L236.55,385.21 L236.68,384.88 L236.80,384.54 L236.92,384.21 L237.04,383.88 L237.16,383.55 L237.28,383.21 L237.41,382.88 L237.53,382.55 L237.65,382.21 L237.76,381.88 L237.88,381.55 L238.00,381.22 L238.11,380.88 L238.22,380.55 L238.33,380.22 L238.44,379.88 L238.54,379.55 L238.64,379.22 L238.73,378.89 L238.83,378.55 L238.93,378.22 L239.03,377.89 L239.13,377.55 L239.23,377.22 L239.33,376.89 L239.42,376.56 L239.51,376.22 L239.60,375.89 L239.67,375.56 L239.74,375.22 L239.80,374.89 L239.85,374.56 L239.88,374.23 L239.91,373.89 L239.93,373.56 L239.94,373.23 L239.96,372.89 L239.98,372.56 L239.99,372.23 L240.01,371.90 L240.02,371.56 L240.04,371.23 L240.05,370.90 L240.06,370.56 L240.07,370.23 L240.08,369.90 L240.08,369.56 L240.09,369.23 L240.09,368.90 L240.10,368.57 L240.10,368.23 L240.10,367.90 L240.09,367.57 L240.07,367.23 L240.04,366.90 L240.01,366.57 L239.96,366.24 L239.91,365.90 L239.86,365.57 L239.80,365.24 L239.73,364.90 L239.67,364.57 L239.60,364.24 L239.53,363.91 L239.46,363.57 L239.40,363.24 L239.33,362.91 L239.27,362.57 L239.21,362.24 L239.16,361.91 L239.11,361.58 L239.07,361.24 L239.04,360.91 L239.02,360.58 L239.00,360.24 L239.00,359.91 L239.00,359.58 L239.01,359.25 L239.01,358.91 L239.02,358.58 L239.03,358.25 L239.04,357.91 L239.05,357.58 L239.06,357.25 L239.08,356.92 L239.09,356.58 L239.11,356.25 L239.13,355.92 L239.15,355.58 L239.17,355.25 L239.19,354.92 L239.21,354.58 L239.23,354.25 L239.26,353.92 L239.28,353.59 L239.31,353.25 L239.33,352.92 L239.36,352.59 L239.38,352.25 L239.41,351.92 L239.43,351.59 L239.47,351.26 L239.50,350.92 L239.54,350.59 L239.58,350.26 L239.62,349.92 L239.67,349.59 L239.71,349.26 L239.76,348.93 L239.82,348.59 L239.87,348.26 L239.93,347.93 L239.99,347.59 L240.05,347.26 L240.11,346.93 L240.18,346.60 L240.26,346.26 L240.33,345.93 L240.42,345.60 L240.51,345.26 L240.60,344.93 L240.70,344.60 L240.80,344.27 L240.91,343.93 L241.02,343.60 L241.14,343.27 L241.25,342.93 L241.38,342.60 L241.50,342.27 L241.62,341.94 L241.76,341.60 L241.91,341.27 L242.06,340.94 L242.23,340.60 L242.40,340.27 L242.58,339.94 L242.76,339.60 L242.95,339.27 L243.13,338.94 L243.32,338.61 L243.51,338.27 L243.70,337.94 L243.88,337.61 L244.06,337.27 L244.23,336.94 L244.40,336.61 L244.58,336.28 L244.77,335.94 L244.96,335.61 L245.14,335.28 L245.33,334.94 L245.52,334.61 L245.70,334.28 L245.87,333.95 L246.04,333.61 L246.20,333.28 L246.35,332.95 L246.49,332.61 L246.61,332.28 L246.72,331.95 L246.82,331.62 L246.92,331.28 L247.02,330.95 L247.13,330.62 L247.23,330.28 L247.32,329.95 L247.42,329.62 L247.51,329.29 L247.59,328.95 L247.67,328.62 L247.74,328.29 L247.81,327.95 L247.86,327.62 L247.91,327.29 L247.95,326.96 L247.98,326.62 L248.00,326.29 L248.00,325.96 L248.00,325.62 L247.99,325.29 L247.99,324.96 L247.98,324.62 L247.96,324.29 L247.95,323.96 L247.93,323.63 L247.92,323.29 L247.90,322.96 L247.88,322.63 L247.85,322.29 L247.83,321.96 L247.81,321.63 L247.78,321.30 L247.75,320.96 L247.73,320.63 L247.70,320.30 L247.68,319.96 L247.65,319.63 L247.62,319.30 L247.60,318.97 L247.57,318.63 L247.54,318.30 L247.51,317.97 L247.48,317.63 L247.45,317.30 L247.42,316.97 L247.39,316.64 L247.35,316.30 L247.32,315.97 L247.28,315.64 L247.24,315.30 L247.20,314.97 L247.16,314.64 L247.12,314.31 L247.08,313.97 L247.03,313.64 L246.99,313.31 L246.94,312.97 L246.90,312.64 L246.85,312.31 L246.80,311.98 L246.75,311.64 L246.70,311.31 L246.65,310.98 L246.60,310.64 L246.55,310.31 L246.50,309.98 L246.44,309.64 L246.39,309.31 L246.33,308.98 L246.26,308.65 L246.20,308.31 L246.14,307.98 L246.07,307.65 L246.00,307.31 L245.93,306.98 L245.85,306.65 L245.78,306.32 L245.70,305.98 L245.63,305.65 L245.55,305.32 L245.47,304.98 L245.39,304.65 L245.31,304.32 L245.22,303.99 L245.14,303.65 L245.05,303.32 L244.97,302.99 L244.88,302.65 L244.80,302.32 L244.71,301.99 L244.63,301.66 L244.54,301.32 L244.46,300.99 L244.37,300.66 L244.28,300.32 L244.20,299.99 L244.11,299.66 L244.02,299.33 L243.93,298.99 L243.84,298.66 L243.75,298.33 L243.66,297.99 L243.57,297.66 L243.47,297.33 L243.37,297.00 L243.28,296.66 L243.18,296.33 L243.08,296.00 L242.98,295.66 L242.88,295.33 L242.78,295.00 L242.68,294.66 L242.58,294.33 L242.48,294.00 L242.38,293.67 L242.28,293.33 L242.17,293.00 L242.07,292.67 L241.97,292.33 L241.87,292.00 L241.77,291.67 L241.67,291.34 L241.57,291.00 L241.47,290.67 L241.37,290.34 L241.27,290.00 L241.17,289.67 L241.08,289.34 L240.98,289.01 L240.89,288.67 L240.79,288.34 L240.70,288.01 L240.61,287.67 L240.52,287.34 L240.43,287.01 L240.35,286.68 L240.26,286.34 L240.17,286.01 L240.09,285.68 L240.00,285.34 L239.92,285.01 L239.83,284.68 L239.75,284.35 L239.67,284.01 L239.58,283.68 L239.50,283.35 L239.41,283.01 L239.33,282.68 L239.24,282.35 L239.15,282.02 L239.06,281.68 L238.97,281.35 L238.88,281.02 L238.79,280.68 L238.70,280.35 L238.61,280.02 L238.51,279.68 L238.41,279.35 L238.31,279.02 L238.21,278.69 L238.10,278.35 L238.00,278.02 L237.89,277.69 L237.79,277.35 L237.68,277.02 L237.57,276.69 L237.46,276.36 L237.35,276.02 L237.24,275.69 L237.13,275.36 L237.02,275.02 L236.91,274.69 L236.80,274.36 L236.68,274.03 L236.57,273.69 L236.46,273.36 L236.35,273.03 L236.24,272.69 L236.14,272.36 L236.03,272.03 L235.92,271.70 L235.82,271.36 L235.71,271.03 L235.61,270.70 L235.51,270.36 L235.41,270.03 L235.31,269.70 L235.21,269.37 L235.11,269.03 L235.01,268.70 L234.91,268.37 L234.81,268.03 L234.72,267.70 L234.62,267.37 L234.52,267.04 L234.42,266.70 L234.33,266.37 L234.23,266.04 L234.14,265.70 L234.04,265.37 L233.95,265.04 L233.86,264.70 L233.77,264.37 L233.68,264.04 L233.60,263.71 L233.52,263.37 L233.44,263.04 L233.36,262.71 L233.28,262.37 L233.21,262.04 L233.14,261.71 L233.07,261.38 L233.00,261.04 L232.93,260.71 L232.86,260.38 L232.80,260.04 L232.74,259.71 L232.67,259.38 L232.61,259.05 L232.56,258.71 L232.50,258.38 L232.45,258.05 L232.40,257.71 L232.35,257.38 L232.31,257.05 L232.26,256.72 L232.22,256.38 L232.17,256.05 L232.13,255.72 L232.08,255.38 L232.04,255.05 L232.00,254.72 L231.96,254.39 L231.92,254.05 L231.89,253.72 L231.86,253.39 L231.83,253.05 L231.82,252.72 L231.80,252.39 L231.80,252.06 L231.80,251.72 L231.80,251.39 L231.80,251.06 L231.81,250.72 L231.81,250.39 L231.82,250.06 L231.82,249.72 L231.83,249.39 L231.84,249.06 L231.85,248.73 L231.86,248.39 L231.87,248.06 L231.88,247.73 L231.89,247.39 L231.90,247.06 L231.91,246.73 L231.93,246.40 L231.96,246.06 L231.99,245.73 L232.03,245.40 L232.07,245.06 L232.11,244.73 L232.16,244.40 L232.20,244.07 L232.25,243.73 L232.30,243.40 L232.35,243.07 L232.40,242.73 L232.45,242.40 L232.49,242.07 L232.53,241.74 L232.58,241.40 L232.62,241.07 L232.66,240.74 L232.71,240.40 L232.75,240.07 L232.80,239.74 L232.84,239.41 L232.88,239.07 L232.93,238.74 L232.97,238.41 L233.02,238.07 L233.07,237.74 L233.11,237.41 L233.16,237.08 L233.20,236.74 L233.25,236.41 L233.29,236.08 L233.33,235.74 L233.38,235.41 L233.43,235.08 L233.47,234.74 L233.52,234.41 L233.57,234.08 L233.62,233.75 L233.66,233.41 L233.71,233.08 L233.76,232.75 L233.80,232.41 L233.85,232.08 L233.89,231.75 L233.94,231.42 L233.98,231.08 L234.02,230.75 L234.06,230.42 L234.09,230.08 L234.13,229.75 L234.16,229.42 L234.19,229.09 L234.23,228.75 L234.26,228.42 L234.29,228.09 L234.32,227.75 L234.35,227.42 L234.38,227.09 L234.41,226.76 L234.44,226.42 L234.47,226.09 L234.49,225.76 L234.52,225.42 L234.54,225.09 L234.56,224.76 L234.58,224.43 L234.60,224.09 L234.61,223.76 L234.63,223.43 L234.64,223.09 L234.66,222.76 L234.67,222.43 L234.69,222.10 L234.70,221.76 L234.72,221.43 L234.73,221.10 L234.74,220.76 L234.76,220.43 L234.77,220.10 L234.78,219.76 L234.78,219.43 L234.79,219.10 L234.80,218.77 L234.80,218.43 L234.80,218.10 L234.80,217.77 L234.79,217.43 L234.78,217.10 L234.77,216.77 L234.75,216.44 L234.73,216.10 L234.70,215.77 L234.68,215.44 L234.65,215.10 L234.61,214.77 L234.58,214.44 L234.54,214.11 L234.51,213.77 L234.47,213.44 L234.43,213.11 L234.39,212.77 L234.35,212.44 L234.31,212.11 L234.27,211.78 L234.23,211.44 L234.18,211.11 L234.13,210.78 L234.08,210.44 L234.02,210.11 L233.96,209.78 L233.90,209.45 L233.84,209.11 L233.77,208.78 L233.70,208.45 L233.63,208.11 L233.57,207.78 L233.50,207.45 L233.42,207.12 L233.35,206.78 L233.27,206.45 L233.19,206.12 L233.11,205.78 L233.02,205.45 L232.92,205.12 L232.83,204.78 L232.74,204.45 L232.64,204.12 L232.55,203.79 L232.46,203.45 L232.37,203.12 L232.28,202.79 L232.20,202.45 L232.13,202.12 L232.05,201.79 L231.98,201.46 L231.90,201.12 L231.82,200.79 L231.75,200.46 L231.67,200.12 L231.59,199.79 L231.52,199.46 L231.46,199.13 L231.39,198.79 L231.34,198.46 L231.29,198.13 L231.25,197.79 L231.22,197.46 L231.20,197.13 L231.20,196.80 L231.19,196.46 L231.18,196.13 L231.18,195.80 L231.17,195.46 L231.17,195.13 L231.16,194.80 L231.16,194.47 L231.15,194.13 L231.15,193.80 L231.15,193.47 L231.15,193.13 L231.15,192.80 L231.16,192.47 L231.17,192.14 L231.19,191.80 L231.22,191.47 L231.25,191.14 L231.28,190.80 L231.31,190.47 L231.35,190.14 L231.39,189.80 L231.43,189.47 L231.47,189.14 L231.51,188.81 L231.55,188.47 L231.59,188.14 L231.62,187.81 L231.66,187.47 L231.69,187.14 L231.73,186.81 L231.77,186.48 L231.82,186.14 L231.86,185.81 L231.90,185.48 L231.94,185.14 L231.99,184.81 L232.03,184.48 L232.07,184.15 L232.11,183.81 L232.15,183.48 L232.19,183.15 L232.22,182.81 L232.26,182.48 L232.29,182.15 L232.32,181.82 L232.35,181.48 L232.37,181.15 L232.41,180.82 L232.44,180.48 L232.47,180.15 L232.50,179.82 L232.52,179.49 L232.55,179.15 L232.58,178.82 L232.60,178.49 L232.62,178.15 L232.64,177.82 L232.66,177.49 L232.68,177.16 L232.69,176.82 L232.70,176.49 L232.70,176.16 L232.70,175.82 L232.70,175.49 L232.70,175.16 L232.70,174.82 L232.70,174.49 L232.70,174.16 L232.70,173.83 L232.70,173.49 L232.70,173.16 L232.70,172.83 L232.70,172.49 L232.70,172.16 L232.70,171.83 L232.70,171.50 L232.70,171.16 L232.70,170.83 L232.70,170.50 L232.70,170.16 L232.70,169.83 L232.70,169.50 L232.70,169.17 L232.70,168.83 L232.70,168.50 Z" fill="#B3B3D0" stroke="#000" stroke-width="2.2" stroke-linejoin="round"/>
<line x1="221.01" y1="287.60" x2="240.59" y2="287.60" stroke="#000" stroke-width="1.15" stroke-dasharray="1.15 2.35"/>
<line x1="220.15" y1="342.40" x2="241.45" y2="342.40" stroke="#000" stroke-width="1.15" stroke-dasharray="1.15 2.35"/>
<line x1="214.00" y1="319.00" x2="247.60" y2="319.00" stroke="#000" stroke-width="2.3" stroke-dasharray="7 5" stroke-dashoffset="0"/>
<path d="M320.00,300.70 L320.07,301.03 L320.13,301.37 L320.20,301.70 L320.26,302.03 L320.32,302.37 L320.38,302.70 L320.44,303.03 L320.50,303.36 L320.55,303.70 L320.60,304.03 L320.66,304.36 L320.71,304.70 L320.77,305.03 L320.83,305.36 L320.89,305.70 L320.95,306.03 L321.01,306.36 L321.07,306.69 L321.12,307.03 L321.17,307.36 L321.22,307.69 L321.27,308.03 L321.30,308.36 L321.34,308.69 L321.36,309.03 L321.38,309.36 L321.40,309.69 L321.40,310.02 L321.40,310.36 L321.38,310.69 L321.36,311.02 L321.34,311.36 L321.30,311.69 L321.27,312.02 L321.22,312.36 L321.17,312.69 L321.12,313.02 L321.06,313.35 L321.00,313.69 L320.93,314.02 L320.86,314.35 L320.79,314.69 L320.72,315.02 L320.65,315.35 L320.57,315.69 L320.50,316.02 L320.41,316.35 L320.30,316.68 L320.18,317.02 L320.05,317.35 L319.90,317.68 L319.75,318.02 L319.59,318.35 L319.42,318.68 L319.26,319.02 L319.10,319.35 L318.94,319.68 L318.79,320.01 L318.64,320.35 L318.49,320.68 L318.32,321.01 L318.16,321.35 L317.99,321.68 L317.83,322.01 L317.66,322.35 L317.51,322.68 L317.36,323.01 L317.23,323.34 L317.10,323.68 L317.00,324.01 L316.90,324.34 L316.79,324.68 L316.69,325.01 L316.59,325.34 L316.49,325.68 L316.40,326.01 L316.31,326.34 L316.23,326.67 L316.16,327.01 L316.10,327.34 L316.05,327.67 L316.02,328.01 L316.00,328.34 L316.01,328.67 L316.06,329.00 L316.14,329.34 L316.27,329.67 L316.41,330.00 L316.58,330.34 L316.75,330.67 L316.93,331.00 L317.10,331.34 L317.26,331.67 L317.40,332.00 L317.54,332.33 L317.69,332.67 L317.85,333.00 L318.00,333.33 L318.14,333.67 L318.24,334.00 L318.29,334.33 L318.29,334.67 L318.25,335.00 L318.17,335.33 L318.06,335.66 L317.92,336.00 L317.76,336.33 L317.57,336.66 L317.38,337.00 L317.17,337.33 L316.96,337.66 L316.69,338.00 L316.34,338.33 L315.93,338.66 L315.47,339.00 L314.97,339.33 L314.46,339.66 L313.94,339.99 L313.43,340.33 L312.93,340.66 L312.47,340.99 L312.01,341.33 L311.52,341.66 L311.02,341.99 L310.51,342.32 L310.02,342.66 L309.54,342.99 L309.09,343.32 L308.67,343.66 L308.30,343.99 L307.98,344.32 L307.69,344.66 L307.42,344.99 L307.17,345.32 L306.94,345.65 L306.74,345.99 L306.58,346.32 L306.44,346.65 L306.31,346.99 L306.19,347.32 L306.08,347.65 L305.99,347.99 L305.93,348.32 L305.90,348.65 L305.91,348.98 L305.96,349.32 L306.03,349.65 L306.13,349.98 L306.24,350.32 L306.37,350.65 L306.59,350.98 L306.89,351.32 L307.20,351.65 L307.49,351.98 L307.73,352.31 L307.95,352.65 L308.17,352.98 L308.39,353.31 L308.60,353.65 L308.81,353.98 L309.02,354.31 L309.25,354.65 L309.48,354.98 L309.73,355.31 L310.00,355.64 L310.29,355.98 L310.59,356.31 L310.91,356.64 L311.23,356.98 L311.56,357.31 L311.87,357.64 L312.18,357.98 L312.47,358.31 L312.77,358.64 L313.06,358.97 L313.35,359.31 L313.63,359.64 L313.92,359.97 L314.20,360.31 L314.49,360.64 L314.78,360.97 L315.06,361.31 L315.35,361.64 L315.65,361.97 L315.94,362.30 L316.23,362.64 L316.52,362.97 L316.80,363.30 L317.09,363.64 L317.37,363.97 L317.64,364.30 L317.90,364.64 L318.13,364.97 L318.33,365.30 L318.52,365.63 L318.73,365.97 L318.97,366.30 L319.27,366.63 L319.66,366.97 L320.40,367.30 L325.40,367.30 L326.14,366.97 L326.53,366.63 L326.83,366.30 L327.07,365.97 L327.28,365.63 L327.47,365.30 L327.67,364.97 L327.90,364.64 L328.16,364.30 L328.43,363.97 L328.71,363.64 L329.00,363.30 L329.28,362.97 L329.57,362.64 L329.86,362.30 L330.15,361.97 L330.45,361.64 L330.74,361.31 L331.02,360.97 L331.31,360.64 L331.60,360.31 L331.88,359.97 L332.17,359.64 L332.45,359.31 L332.74,358.97 L333.03,358.64 L333.33,358.31 L333.62,357.98 L333.93,357.64 L334.24,357.31 L334.57,356.98 L334.89,356.64 L335.21,356.31 L335.51,355.98 L335.80,355.64 L336.07,355.31 L336.32,354.98 L336.55,354.65 L336.78,354.31 L336.99,353.98 L337.20,353.65 L337.41,353.31 L337.63,352.98 L337.85,352.65 L338.07,352.31 L338.31,351.98 L338.60,351.65 L338.91,351.32 L339.21,350.98 L339.43,350.65 L339.56,350.32 L339.67,349.98 L339.77,349.65 L339.84,349.32 L339.89,348.98 L339.90,348.65 L339.87,348.32 L339.81,347.99 L339.72,347.65 L339.61,347.32 L339.49,346.99 L339.36,346.65 L339.22,346.32 L339.06,345.99 L338.86,345.65 L338.63,345.32 L338.38,344.99 L338.11,344.66 L337.82,344.32 L337.50,343.99 L337.13,343.66 L336.71,343.32 L336.26,342.99 L335.78,342.66 L335.29,342.32 L334.78,341.99 L334.28,341.66 L333.79,341.33 L333.33,340.99 L332.87,340.66 L332.37,340.33 L331.86,339.99 L331.34,339.66 L330.83,339.33 L330.33,339.00 L329.87,338.66 L329.46,338.33 L329.11,338.00 L328.84,337.66 L328.63,337.33 L328.42,337.00 L328.23,336.66 L328.04,336.33 L327.88,336.00 L327.74,335.66 L327.63,335.33 L327.55,335.00 L327.51,334.67 L327.51,334.33 L327.56,334.00 L327.66,333.67 L327.80,333.33 L327.95,333.00 L328.11,332.67 L328.26,332.33 L328.40,332.00 L328.54,331.67 L328.70,331.34 L328.87,331.00 L329.05,330.67 L329.22,330.34 L329.39,330.00 L329.53,329.67 L329.66,329.34 L329.74,329.00 L329.79,328.67 L329.80,328.34 L329.78,328.01 L329.75,327.67 L329.70,327.34 L329.64,327.01 L329.57,326.67 L329.49,326.34 L329.40,326.01 L329.31,325.68 L329.21,325.34 L329.11,325.01 L329.01,324.68 L328.90,324.34 L328.80,324.01 L328.70,323.68 L328.57,323.34 L328.44,323.01 L328.29,322.68 L328.14,322.35 L327.97,322.01 L327.81,321.68 L327.64,321.35 L327.48,321.01 L327.31,320.68 L327.16,320.35 L327.01,320.01 L326.86,319.68 L326.70,319.35 L326.54,319.02 L326.38,318.68 L326.21,318.35 L326.05,318.02 L325.90,317.68 L325.75,317.35 L325.62,317.02 L325.50,316.68 L325.39,316.35 L325.30,316.02 L325.23,315.69 L325.15,315.35 L325.08,315.02 L325.01,314.69 L324.94,314.35 L324.87,314.02 L324.80,313.69 L324.74,313.35 L324.68,313.02 L324.63,312.69 L324.58,312.36 L324.53,312.02 L324.50,311.69 L324.46,311.36 L324.44,311.02 L324.42,310.69 L324.40,310.36 L324.40,310.02 L324.40,309.69 L324.42,309.36 L324.44,309.03 L324.46,308.69 L324.50,308.36 L324.53,308.03 L324.58,307.69 L324.63,307.36 L324.68,307.03 L324.73,306.69 L324.79,306.36 L324.85,306.03 L324.91,305.70 L324.97,305.36 L325.03,305.03 L325.09,304.70 L325.14,304.36 L325.20,304.03 L325.25,303.70 L325.30,303.36 L325.36,303.03 L325.42,302.70 L325.48,302.37 L325.54,302.03 L325.60,301.70 L325.67,301.37 L325.73,301.03 L325.80,300.70 Z" fill="#FDDE8A" stroke="#000" stroke-width="2.2" stroke-linejoin="round"/>
<line x1="320.30" y1="328.60" x2="325.50" y2="328.60" stroke="#000" stroke-width="1.15" stroke-dasharray="1.15 2.35"/>
<line x1="307.50" y1="352.00" x2="338.30" y2="352.00" stroke="#000" stroke-width="1.15" stroke-dasharray="1.15 2.35"/>
<line x1="307.11" y1="345.40" x2="338.69" y2="345.40" stroke="#000" stroke-width="2.3" stroke-dasharray="7 5" stroke-dashoffset="0"/>
<path d="M378.10,261.70 L378.11,262.03 L378.12,262.37 L378.12,262.70 L378.13,263.03 L378.14,263.36 L378.15,263.70 L378.15,264.03 L378.16,264.36 L378.17,264.69 L378.17,265.03 L378.18,265.36 L378.18,265.69 L378.19,266.02 L378.19,266.36 L378.19,266.69 L378.20,267.02 L378.20,267.35 L378.20,267.69 L378.20,268.02 L378.20,268.35 L378.20,268.68 L378.20,269.02 L378.20,269.35 L378.20,269.68 L378.20,270.01 L378.20,270.35 L378.20,270.68 L378.20,271.01 L378.20,271.34 L378.20,271.68 L378.20,272.01 L378.20,272.34 L378.20,272.67 L378.20,273.01 L378.20,273.34 L378.20,273.67 L378.20,274.00 L378.20,274.34 L378.20,274.67 L378.20,275.00 L378.20,275.33 L378.18,275.67 L378.17,276.00 L378.14,276.33 L378.11,276.66 L378.08,277.00 L378.04,277.33 L378.00,277.66 L377.97,278.00 L377.93,278.33 L377.89,278.66 L377.85,278.99 L377.81,279.33 L377.76,279.66 L377.70,279.99 L377.64,280.32 L377.58,280.66 L377.53,280.99 L377.49,281.32 L377.46,281.65 L377.45,281.99 L377.45,282.32 L377.46,282.65 L377.46,282.98 L377.47,283.32 L377.49,283.65 L377.50,283.98 L377.51,284.31 L377.53,284.65 L377.55,284.98 L377.58,285.31 L377.62,285.64 L377.69,285.98 L377.75,286.31 L377.83,286.64 L377.89,286.97 L377.95,287.31 L377.98,287.64 L378.00,287.97 L378.00,288.30 L378.00,288.64 L377.99,288.97 L377.99,289.30 L377.98,289.63 L377.97,289.97 L377.96,290.30 L377.94,290.63 L377.91,290.96 L377.85,291.30 L377.77,291.63 L377.69,291.96 L377.61,292.29 L377.53,292.63 L377.46,292.96 L377.40,293.29 L377.34,293.62 L377.29,293.96 L377.23,294.29 L377.18,294.62 L377.13,294.96 L377.07,295.29 L377.02,295.62 L376.96,295.95 L376.90,296.29 L376.84,296.62 L376.78,296.95 L376.71,297.28 L376.65,297.62 L376.59,297.95 L376.52,298.28 L376.45,298.61 L376.38,298.95 L376.31,299.28 L376.24,299.61 L376.16,299.94 L376.08,300.28 L376.00,300.61 L375.92,300.94 L375.83,301.27 L375.74,301.61 L375.65,301.94 L375.56,302.27 L375.46,302.60 L375.36,302.94 L375.27,303.27 L375.17,303.60 L375.07,303.93 L374.97,304.27 L374.87,304.60 L374.77,304.93 L374.67,305.26 L374.57,305.60 L374.46,305.93 L374.36,306.26 L374.25,306.59 L374.13,306.93 L374.02,307.26 L373.90,307.59 L373.78,307.92 L373.65,308.26 L373.52,308.59 L373.38,308.92 L373.23,309.25 L373.08,309.59 L372.93,309.92 L372.77,310.25 L372.62,310.59 L372.46,310.92 L372.30,311.25 L372.14,311.58 L371.99,311.92 L371.83,312.25 L371.67,312.58 L371.50,312.91 L371.33,313.25 L371.16,313.58 L370.99,313.91 L370.84,314.24 L370.70,314.58 L370.58,314.91 L370.48,315.24 L370.39,315.57 L370.32,315.91 L370.25,316.24 L370.18,316.57 L370.12,316.90 L370.05,317.24 L369.97,317.57 L369.88,317.90 L369.78,318.23 L369.67,318.57 L369.55,318.90 L369.41,319.23 L369.27,319.56 L369.10,319.90 L368.91,320.23 L368.65,320.56 L368.34,320.89 L368.03,321.23 L367.75,321.56 L367.51,321.89 L367.33,322.22 L367.17,322.56 L367.00,322.89 L366.85,323.22 L366.71,323.55 L366.59,323.89 L366.48,324.22 L366.41,324.55 L366.36,324.88 L366.34,325.22 L366.32,325.55 L366.30,325.88 L366.28,326.21 L366.27,326.55 L366.26,326.88 L366.26,327.21 L366.25,327.55 L366.25,327.88 L366.29,328.21 L366.38,328.54 L366.51,328.88 L366.66,329.21 L366.83,329.54 L367.02,329.87 L367.20,330.21 L367.37,330.54 L367.57,330.87 L367.80,331.20 L368.04,331.54 L368.28,331.87 L368.48,332.20 L368.63,332.53 L368.73,332.87 L368.82,333.20 L368.90,333.53 L368.97,333.86 L369.02,334.20 L369.05,334.53 L369.03,334.86 L368.89,335.19 L368.64,335.53 L368.32,335.86 L367.97,336.19 L367.61,336.52 L367.13,336.86 L366.56,337.19 L365.95,337.52 L365.35,337.85 L364.82,338.19 L364.29,338.52 L363.76,338.85 L363.26,339.18 L362.84,339.52 L362.51,339.85 L362.24,340.18 L362.00,340.51 L361.79,340.85 L361.62,341.18 L361.48,341.51 L361.37,341.84 L361.27,342.18 L361.19,342.51 L361.15,342.84 L361.17,343.18 L361.26,343.51 L361.39,343.84 L361.56,344.17 L361.74,344.51 L361.93,344.84 L362.18,345.17 L362.49,345.50 L362.84,345.84 L363.21,346.17 L363.59,346.50 L363.97,346.83 L364.32,347.17 L364.66,347.50 L365.01,347.83 L365.37,348.16 L365.73,348.50 L366.08,348.83 L366.42,349.16 L366.76,349.49 L367.07,349.83 L367.38,350.16 L367.68,350.49 L367.96,350.82 L368.24,351.16 L368.52,351.49 L368.80,351.82 L369.07,352.15 L369.35,352.49 L369.64,352.82 L369.93,353.15 L370.23,353.48 L370.54,353.82 L370.84,354.15 L371.13,354.48 L371.42,354.81 L371.69,355.15 L371.95,355.48 L372.19,355.81 L372.41,356.14 L372.61,356.48 L372.81,356.81 L373.00,357.14 L373.18,357.47 L373.35,357.81 L373.52,358.14 L373.69,358.47 L373.85,358.80 L374.02,359.14 L374.18,359.47 L374.35,359.80 L374.52,360.14 L374.70,360.47 L374.90,360.80 L375.09,361.13 L375.29,361.47 L375.49,361.80 L375.68,362.13 L375.86,362.46 L376.03,362.80 L376.17,363.13 L376.30,363.46 L376.40,363.79 L376.48,364.13 L376.54,364.46 L376.61,364.79 L376.67,365.12 L376.72,365.46 L376.77,365.79 L376.80,366.12 L376.83,366.45 L376.85,366.79 L376.85,367.12 L376.85,367.45 L376.84,367.78 L376.83,368.12 L376.82,368.45 L376.80,368.78 L376.79,369.11 L376.77,369.45 L376.76,369.78 L376.75,370.11 L376.73,370.44 L376.71,370.78 L376.69,371.11 L376.67,371.44 L376.65,371.77 L376.62,372.11 L376.60,372.44 L376.58,372.77 L376.57,373.10 L376.56,373.44 L376.55,373.77 L376.56,374.10 L376.64,374.43 L376.79,374.77 L376.95,375.10 L379.75,375.10 L379.91,374.77 L380.06,374.43 L380.14,374.10 L380.15,373.77 L380.14,373.44 L380.13,373.10 L380.12,372.77 L380.10,372.44 L380.08,372.11 L380.05,371.77 L380.03,371.44 L380.01,371.11 L379.99,370.78 L379.97,370.44 L379.95,370.11 L379.94,369.78 L379.93,369.45 L379.91,369.11 L379.90,368.78 L379.88,368.45 L379.87,368.12 L379.86,367.78 L379.85,367.45 L379.85,367.12 L379.85,366.79 L379.87,366.45 L379.90,366.12 L379.93,365.79 L379.98,365.46 L380.03,365.12 L380.09,364.79 L380.16,364.46 L380.22,364.13 L380.30,363.79 L380.40,363.46 L380.53,363.13 L380.67,362.80 L380.84,362.46 L381.02,362.13 L381.21,361.80 L381.41,361.47 L381.61,361.13 L381.80,360.80 L382.00,360.47 L382.18,360.14 L382.35,359.80 L382.52,359.47 L382.68,359.14 L382.85,358.80 L383.01,358.47 L383.18,358.14 L383.35,357.81 L383.52,357.47 L383.70,357.14 L383.89,356.81 L384.09,356.48 L384.29,356.14 L384.51,355.81 L384.75,355.48 L385.01,355.15 L385.28,354.81 L385.57,354.48 L385.86,354.15 L386.16,353.82 L386.47,353.48 L386.77,353.15 L387.06,352.82 L387.35,352.49 L387.63,352.15 L387.90,351.82 L388.18,351.49 L388.46,351.16 L388.74,350.82 L389.02,350.49 L389.32,350.16 L389.63,349.83 L389.94,349.49 L390.28,349.16 L390.62,348.83 L390.97,348.50 L391.33,348.16 L391.69,347.83 L392.04,347.50 L392.38,347.17 L392.73,346.83 L393.11,346.50 L393.49,346.17 L393.86,345.84 L394.21,345.50 L394.52,345.17 L394.77,344.84 L394.96,344.51 L395.14,344.17 L395.31,343.84 L395.44,343.51 L395.53,343.18 L395.55,342.84 L395.51,342.51 L395.43,342.18 L395.33,341.84 L395.22,341.51 L395.08,341.18 L394.91,340.85 L394.70,340.51 L394.46,340.18 L394.19,339.85 L393.86,339.52 L393.44,339.18 L392.94,338.85 L392.41,338.52 L391.88,338.19 L391.35,337.85 L390.75,337.52 L390.14,337.19 L389.57,336.86 L389.09,336.52 L388.73,336.19 L388.38,335.86 L388.06,335.53 L387.81,335.19 L387.67,334.86 L387.65,334.53 L387.68,334.20 L387.73,333.86 L387.80,333.53 L387.88,333.20 L387.97,332.87 L388.07,332.53 L388.22,332.20 L388.42,331.87 L388.66,331.54 L388.90,331.20 L389.13,330.87 L389.33,330.54 L389.50,330.21 L389.68,329.87 L389.87,329.54 L390.04,329.21 L390.19,328.88 L390.32,328.54 L390.41,328.21 L390.45,327.88 L390.45,327.55 L390.44,327.21 L390.44,326.88 L390.43,326.55 L390.42,326.21 L390.40,325.88 L390.38,325.55 L390.36,325.22 L390.34,324.88 L390.29,324.55 L390.22,324.22 L390.11,323.89 L389.99,323.55 L389.85,323.22 L389.70,322.89 L389.53,322.56 L389.37,322.22 L389.19,321.89 L388.95,321.56 L388.67,321.23 L388.36,320.89 L388.05,320.56 L387.79,320.23 L387.60,319.90 L387.43,319.56 L387.29,319.23 L387.15,318.90 L387.03,318.57 L386.92,318.23 L386.82,317.90 L386.73,317.57 L386.65,317.24 L386.58,316.90 L386.52,316.57 L386.45,316.24 L386.38,315.91 L386.31,315.57 L386.22,315.24 L386.12,314.91 L386.00,314.58 L385.86,314.24 L385.71,313.91 L385.54,313.58 L385.37,313.25 L385.20,312.91 L385.03,312.58 L384.87,312.25 L384.71,311.92 L384.56,311.58 L384.40,311.25 L384.24,310.92 L384.08,310.59 L383.93,310.25 L383.77,309.92 L383.62,309.59 L383.47,309.25 L383.32,308.92 L383.18,308.59 L383.05,308.26 L382.92,307.92 L382.80,307.59 L382.68,307.26 L382.57,306.93 L382.45,306.59 L382.34,306.26 L382.24,305.93 L382.13,305.60 L382.03,305.26 L381.93,304.93 L381.83,304.60 L381.73,304.27 L381.63,303.93 L381.53,303.60 L381.43,303.27 L381.34,302.94 L381.24,302.60 L381.14,302.27 L381.05,301.94 L380.96,301.61 L380.87,301.27 L380.78,300.94 L380.70,300.61 L380.62,300.28 L380.54,299.94 L380.46,299.61 L380.39,299.28 L380.32,298.95 L380.25,298.61 L380.18,298.28 L380.11,297.95 L380.05,297.62 L379.99,297.28 L379.92,296.95 L379.86,296.62 L379.80,296.29 L379.74,295.95 L379.68,295.62 L379.63,295.29 L379.57,294.96 L379.52,294.62 L379.47,294.29 L379.41,293.96 L379.36,293.62 L379.30,293.29 L379.24,292.96 L379.17,292.63 L379.09,292.29 L379.01,291.96 L378.93,291.63 L378.85,291.30 L378.79,290.96 L378.76,290.63 L378.74,290.30 L378.73,289.97 L378.72,289.63 L378.71,289.30 L378.71,288.97 L378.70,288.64 L378.70,288.30 L378.70,287.97 L378.72,287.64 L378.75,287.31 L378.81,286.97 L378.87,286.64 L378.95,286.31 L379.01,285.98 L379.08,285.64 L379.12,285.31 L379.15,284.98 L379.17,284.65 L379.19,284.31 L379.20,283.98 L379.21,283.65 L379.23,283.32 L379.24,282.98 L379.24,282.65 L379.25,282.32 L379.25,281.99 L379.24,281.65 L379.21,281.32 L379.17,280.99 L379.12,280.66 L379.06,280.32 L379.00,279.99 L378.94,279.66 L378.89,279.33 L378.85,278.99 L378.81,278.66 L378.77,278.33 L378.73,278.00 L378.70,277.66 L378.66,277.33 L378.62,277.00 L378.59,276.66 L378.56,276.33 L378.53,276.00 L378.52,275.67 L378.50,275.33 L378.50,275.00 L378.50,274.67 L378.50,274.34 L378.50,274.00 L378.50,273.67 L378.50,273.34 L378.50,273.01 L378.50,272.67 L378.50,272.34 L378.50,272.01 L378.50,271.68 L378.50,271.34 L378.50,271.01 L378.50,270.68 L378.50,270.35 L378.50,270.01 L378.50,269.68 L378.50,269.35 L378.50,269.02 L378.50,268.68 L378.50,268.35 L378.50,268.02 L378.50,267.69 L378.50,267.35 L378.50,267.02 L378.51,266.69 L378.51,266.36 L378.51,266.02 L378.52,265.69 L378.52,265.36 L378.53,265.03 L378.53,264.69 L378.54,264.36 L378.55,264.03 L378.55,263.70 L378.56,263.36 L378.57,263.03 L378.58,262.70 L378.58,262.37 L378.59,262.03 L378.60,261.70 Z" fill="#9FE2B7" stroke="#000" stroke-width="2.2" stroke-linejoin="round"/>
<line x1="367.35" y1="322.20" x2="389.35" y2="322.20" stroke="#000" stroke-width="1.15" stroke-dasharray="1.15 2.35"/>
<line x1="364.35" y1="347.20" x2="392.35" y2="347.20" stroke="#000" stroke-width="1.15" stroke-dasharray="1.15 2.35"/>
<line x1="368.75" y1="337.40" x2="387.95" y2="337.40" stroke="#000" stroke-width="2.3" stroke-dasharray="7 5" stroke-dashoffset="4.6"/>
<path d="M432.30,250.70 L432.30,251.03 L432.30,251.37 L432.30,251.70 L432.30,252.03 L432.30,252.36 L432.30,252.70 L432.30,253.03 L432.30,253.36 L432.30,253.69 L432.30,254.03 L432.30,254.36 L432.30,254.69 L432.30,255.02 L432.29,255.36 L432.27,255.69 L432.25,256.02 L432.21,256.35 L432.17,256.69 L432.12,257.02 L432.07,257.35 L432.01,257.68 L431.96,258.02 L431.90,258.35 L431.85,258.68 L431.80,259.02 L431.76,259.35 L431.73,259.68 L431.70,260.01 L431.68,260.35 L431.65,260.68 L431.63,261.01 L431.61,261.34 L431.58,261.68 L431.56,262.01 L431.55,262.34 L431.53,262.67 L431.52,263.01 L431.51,263.34 L431.50,263.67 L431.50,264.00 L431.51,264.34 L431.52,264.67 L431.55,265.00 L431.58,265.33 L431.62,265.67 L431.67,266.00 L431.72,266.33 L431.78,266.66 L431.83,267.00 L431.89,267.33 L431.95,267.66 L432.00,268.00 L432.06,268.33 L432.13,268.66 L432.20,268.99 L432.29,269.33 L432.37,269.66 L432.47,269.99 L432.56,270.32 L432.65,270.66 L432.74,270.99 L432.82,271.32 L432.90,271.65 L432.96,271.99 L433.02,272.32 L433.07,272.65 L433.10,272.98 L433.12,273.32 L433.14,273.65 L433.16,273.98 L433.18,274.31 L433.20,274.65 L433.22,274.98 L433.23,275.31 L433.25,275.65 L433.26,275.98 L433.27,276.31 L433.28,276.64 L433.29,276.98 L433.30,277.31 L433.30,277.64 L433.30,277.97 L433.29,278.31 L433.26,278.64 L433.22,278.97 L433.16,279.30 L433.08,279.64 L433.00,279.97 L432.90,280.30 L432.79,280.63 L432.68,280.97 L432.55,281.30 L432.43,281.63 L432.30,281.96 L432.17,282.30 L432.04,282.63 L431.91,282.96 L431.78,283.30 L431.63,283.63 L431.45,283.96 L431.26,284.29 L431.06,284.63 L430.85,284.96 L430.62,285.29 L430.39,285.62 L430.15,285.96 L429.91,286.29 L429.67,286.62 L429.42,286.95 L429.18,287.29 L428.95,287.62 L428.72,287.95 L428.50,288.28 L428.30,288.62 L428.10,288.95 L427.92,289.28 L427.76,289.61 L427.62,289.95 L427.49,290.28 L427.37,290.61 L427.24,290.94 L427.12,291.28 L427.00,291.61 L426.89,291.94 L426.77,292.28 L426.66,292.61 L426.55,292.94 L426.44,293.27 L426.34,293.61 L426.24,293.94 L426.15,294.27 L426.06,294.60 L425.97,294.94 L425.89,295.27 L425.81,295.60 L425.74,295.93 L425.67,296.27 L425.60,296.60 L425.55,296.93 L425.49,297.26 L425.45,297.60 L425.41,297.93 L425.37,298.26 L425.34,298.59 L425.30,298.93 L425.27,299.26 L425.24,299.59 L425.21,299.93 L425.18,300.26 L425.16,300.59 L425.13,300.92 L425.11,301.26 L425.08,301.59 L425.06,301.92 L425.04,302.25 L425.02,302.59 L425.00,302.92 L424.98,303.25 L424.96,303.58 L424.94,303.92 L424.92,304.25 L424.91,304.58 L424.89,304.91 L424.87,305.25 L424.86,305.58 L424.84,305.91 L424.83,306.24 L424.82,306.58 L424.80,306.91 L424.79,307.24 L424.78,307.58 L424.77,307.91 L424.76,308.24 L424.75,308.57 L424.74,308.91 L424.74,309.24 L424.73,309.57 L424.72,309.90 L424.72,310.24 L424.71,310.57 L424.70,310.90 L424.70,311.23 L424.69,311.57 L424.68,311.90 L424.67,312.23 L424.66,312.56 L424.65,312.90 L424.64,313.23 L424.62,313.56 L424.61,313.89 L424.59,314.23 L424.56,314.56 L424.52,314.89 L424.47,315.22 L424.42,315.56 L424.36,315.89 L424.29,316.22 L424.21,316.56 L424.13,316.89 L424.04,317.22 L423.95,317.55 L423.86,317.89 L423.76,318.22 L423.66,318.55 L423.56,318.88 L423.45,319.22 L423.34,319.55 L423.24,319.88 L423.13,320.21 L423.00,320.55 L422.86,320.88 L422.71,321.21 L422.55,321.54 L422.38,321.88 L422.20,322.21 L422.01,322.54 L421.82,322.87 L421.62,323.21 L421.43,323.54 L421.23,323.87 L421.04,324.21 L420.85,324.54 L420.67,324.87 L420.49,325.20 L420.32,325.54 L420.16,325.87 L420.01,326.20 L419.86,326.53 L419.70,326.87 L419.55,327.20 L419.39,327.53 L419.24,327.86 L419.09,328.20 L418.94,328.53 L418.80,328.86 L418.67,329.19 L418.54,329.53 L418.42,329.86 L418.31,330.19 L418.22,330.52 L418.13,330.86 L418.06,331.19 L417.99,331.52 L417.92,331.86 L417.85,332.19 L417.78,332.52 L417.71,332.85 L417.64,333.19 L417.58,333.52 L417.52,333.85 L417.46,334.18 L417.41,334.52 L417.36,334.85 L417.31,335.18 L417.27,335.51 L417.23,335.85 L417.19,336.18 L417.16,336.51 L417.14,336.84 L417.12,337.18 L417.11,337.51 L417.10,337.84 L417.10,338.17 L417.11,338.51 L417.12,338.84 L417.13,339.17 L417.15,339.50 L417.17,339.84 L417.20,340.17 L417.23,340.50 L417.27,340.84 L417.31,341.17 L417.35,341.50 L417.40,341.83 L417.45,342.17 L417.50,342.50 L417.56,342.83 L417.61,343.16 L417.67,343.50 L417.74,343.83 L417.80,344.16 L417.87,344.49 L417.94,344.83 L418.01,345.16 L418.08,345.49 L418.15,345.82 L418.25,346.16 L418.36,346.49 L418.49,346.82 L418.64,347.15 L418.79,347.49 L418.97,347.82 L419.15,348.15 L419.34,348.49 L419.54,348.82 L419.75,349.15 L419.96,349.48 L420.18,349.82 L420.40,350.15 L420.62,350.48 L420.84,350.81 L421.06,351.15 L421.27,351.48 L421.48,351.81 L421.69,352.14 L421.90,352.48 L422.12,352.81 L422.35,353.14 L422.58,353.47 L422.81,353.81 L423.05,354.14 L423.30,354.47 L423.54,354.80 L423.79,355.14 L424.04,355.47 L424.29,355.80 L424.55,356.14 L424.80,356.47 L425.05,356.80 L425.30,357.13 L425.55,357.47 L425.79,357.80 L426.04,358.13 L426.27,358.46 L426.51,358.80 L426.73,359.13 L426.96,359.46 L427.17,359.79 L427.38,360.13 L427.58,360.46 L427.79,360.79 L427.99,361.12 L428.18,361.46 L428.38,361.79 L428.57,362.12 L428.76,362.45 L428.95,362.79 L429.13,363.12 L429.31,363.45 L429.49,363.78 L429.66,364.12 L429.83,364.45 L429.99,364.78 L430.16,365.12 L430.32,365.45 L430.48,365.78 L430.65,366.11 L430.80,366.45 L430.95,366.78 L431.09,367.11 L431.22,367.44 L431.33,367.78 L431.43,368.11 L431.51,368.44 L431.59,368.77 L431.66,369.11 L431.72,369.44 L431.78,369.77 L431.84,370.10 L431.90,370.44 L431.96,370.77 L432.02,371.10 L432.08,371.43 L432.14,371.77 L432.20,372.10 L435.80,372.10 L435.86,371.77 L435.92,371.43 L435.98,371.10 L436.04,370.77 L436.10,370.44 L436.16,370.10 L436.22,369.77 L436.28,369.44 L436.34,369.11 L436.41,368.77 L436.49,368.44 L436.57,368.11 L436.67,367.78 L436.78,367.44 L436.91,367.11 L437.05,366.78 L437.20,366.45 L437.35,366.11 L437.52,365.78 L437.68,365.45 L437.84,365.12 L438.01,364.78 L438.17,364.45 L438.34,364.12 L438.51,363.78 L438.69,363.45 L438.87,363.12 L439.05,362.79 L439.24,362.45 L439.43,362.12 L439.62,361.79 L439.82,361.46 L440.01,361.12 L440.21,360.79 L440.42,360.46 L440.62,360.13 L440.83,359.79 L441.04,359.46 L441.27,359.13 L441.49,358.80 L441.73,358.46 L441.96,358.13 L442.21,357.80 L442.45,357.47 L442.70,357.13 L442.95,356.80 L443.20,356.47 L443.45,356.14 L443.71,355.80 L443.96,355.47 L444.21,355.14 L444.46,354.80 L444.70,354.47 L444.95,354.14 L445.19,353.81 L445.42,353.47 L445.65,353.14 L445.88,352.81 L446.10,352.48 L446.31,352.14 L446.52,351.81 L446.73,351.48 L446.94,351.15 L447.16,350.81 L447.38,350.48 L447.60,350.15 L447.82,349.82 L448.04,349.48 L448.25,349.15 L448.46,348.82 L448.66,348.49 L448.85,348.15 L449.03,347.82 L449.21,347.49 L449.36,347.15 L449.51,346.82 L449.64,346.49 L449.75,346.16 L449.85,345.82 L449.92,345.49 L449.99,345.16 L450.06,344.83 L450.13,344.49 L450.20,344.16 L450.26,343.83 L450.33,343.50 L450.39,343.16 L450.44,342.83 L450.50,342.50 L450.55,342.17 L450.60,341.83 L450.65,341.50 L450.69,341.17 L450.73,340.84 L450.77,340.50 L450.80,340.17 L450.83,339.84 L450.85,339.50 L450.87,339.17 L450.88,338.84 L450.89,338.51 L450.90,338.17 L450.90,337.84 L450.89,337.51 L450.88,337.18 L450.86,336.84 L450.84,336.51 L450.81,336.18 L450.77,335.85 L450.73,335.51 L450.69,335.18 L450.64,334.85 L450.59,334.52 L450.54,334.18 L450.48,333.85 L450.42,333.52 L450.36,333.19 L450.29,332.85 L450.22,332.52 L450.15,332.19 L450.08,331.86 L450.01,331.52 L449.94,331.19 L449.87,330.86 L449.78,330.52 L449.69,330.19 L449.58,329.86 L449.46,329.53 L449.33,329.19 L449.20,328.86 L449.06,328.53 L448.91,328.20 L448.76,327.86 L448.61,327.53 L448.45,327.20 L448.30,326.87 L448.14,326.53 L447.99,326.20 L447.84,325.87 L447.68,325.54 L447.51,325.20 L447.33,324.87 L447.15,324.54 L446.96,324.21 L446.77,323.87 L446.57,323.54 L446.38,323.21 L446.18,322.87 L445.99,322.54 L445.80,322.21 L445.62,321.88 L445.45,321.54 L445.29,321.21 L445.14,320.88 L445.00,320.55 L444.87,320.21 L444.76,319.88 L444.66,319.55 L444.55,319.22 L444.44,318.88 L444.34,318.55 L444.24,318.22 L444.14,317.89 L444.05,317.55 L443.96,317.22 L443.87,316.89 L443.79,316.56 L443.71,316.22 L443.64,315.89 L443.58,315.56 L443.53,315.22 L443.48,314.89 L443.44,314.56 L443.41,314.23 L443.39,313.89 L443.38,313.56 L443.36,313.23 L443.35,312.90 L443.34,312.56 L443.33,312.23 L443.32,311.90 L443.31,311.57 L443.30,311.23 L443.30,310.90 L443.29,310.57 L443.28,310.24 L443.28,309.90 L443.27,309.57 L443.26,309.24 L443.26,308.91 L443.25,308.57 L443.24,308.24 L443.23,307.91 L443.22,307.58 L443.21,307.24 L443.20,306.91 L443.18,306.58 L443.17,306.24 L443.16,305.91 L443.14,305.58 L443.13,305.25 L443.11,304.91 L443.09,304.58 L443.08,304.25 L443.06,303.92 L443.04,303.58 L443.02,303.25 L443.00,302.92 L442.98,302.59 L442.96,302.25 L442.94,301.92 L442.92,301.59 L442.89,301.26 L442.87,300.92 L442.84,300.59 L442.82,300.26 L442.79,299.93 L442.76,299.59 L442.73,299.26 L442.70,298.93 L442.66,298.59 L442.63,298.26 L442.59,297.93 L442.55,297.60 L442.51,297.26 L442.45,296.93 L442.40,296.60 L442.33,296.27 L442.26,295.93 L442.19,295.60 L442.11,295.27 L442.03,294.94 L441.94,294.60 L441.85,294.27 L441.76,293.94 L441.66,293.61 L441.56,293.27 L441.45,292.94 L441.34,292.61 L441.23,292.28 L441.11,291.94 L441.00,291.61 L440.88,291.28 L440.76,290.94 L440.63,290.61 L440.51,290.28 L440.38,289.95 L440.24,289.61 L440.08,289.28 L439.90,288.95 L439.70,288.62 L439.50,288.28 L439.28,287.95 L439.05,287.62 L438.82,287.29 L438.58,286.95 L438.33,286.62 L438.09,286.29 L437.85,285.96 L437.61,285.62 L437.38,285.29 L437.15,284.96 L436.94,284.63 L436.74,284.29 L436.55,283.96 L436.37,283.63 L436.22,283.30 L436.09,282.96 L435.96,282.63 L435.83,282.30 L435.70,281.96 L435.57,281.63 L435.45,281.30 L435.32,280.97 L435.21,280.63 L435.10,280.30 L435.00,279.97 L434.92,279.64 L434.84,279.30 L434.78,278.97 L434.74,278.64 L434.71,278.31 L434.70,277.97 L434.70,277.64 L434.70,277.31 L434.71,276.98 L434.72,276.64 L434.73,276.31 L434.74,275.98 L434.75,275.65 L434.77,275.31 L434.78,274.98 L434.80,274.65 L434.82,274.31 L434.84,273.98 L434.86,273.65 L434.88,273.32 L434.90,272.98 L434.93,272.65 L434.98,272.32 L435.04,271.99 L435.10,271.65 L435.18,271.32 L435.26,270.99 L435.35,270.66 L435.44,270.32 L435.53,269.99 L435.63,269.66 L435.71,269.33 L435.80,268.99 L435.87,268.66 L435.94,268.33 L436.00,268.00 L436.05,267.66 L436.11,267.33 L436.17,267.00 L436.22,266.66 L436.28,266.33 L436.33,266.00 L436.38,265.67 L436.42,265.33 L436.45,265.00 L436.48,264.67 L436.49,264.34 L436.50,264.00 L436.50,263.67 L436.49,263.34 L436.48,263.01 L436.47,262.67 L436.45,262.34 L436.44,262.01 L436.42,261.68 L436.39,261.34 L436.37,261.01 L436.35,260.68 L436.32,260.35 L436.30,260.01 L436.27,259.68 L436.24,259.35 L436.20,259.02 L436.15,258.68 L436.10,258.35 L436.04,258.02 L435.99,257.68 L435.93,257.35 L435.88,257.02 L435.83,256.69 L435.79,256.35 L435.75,256.02 L435.73,255.69 L435.71,255.36 L435.70,255.02 L435.70,254.69 L435.70,254.36 L435.70,254.03 L435.70,253.69 L435.70,253.36 L435.70,253.03 L435.70,252.70 L435.70,252.36 L435.70,252.03 L435.70,251.70 L435.70,251.37 L435.70,251.03 L435.70,250.70 Z" fill="#B3B3D0" stroke="#000" stroke-width="2.2" stroke-linejoin="round"/>
<line x1="424.80" y1="307.00" x2="443.20" y2="307.00" stroke="#000" stroke-width="1.15" stroke-dasharray="1.15 2.35"/>
<line x1="418.10" y1="345.60" x2="449.90" y2="345.60" stroke="#000" stroke-width="1.15" stroke-dasharray="1.15 2.35"/>
<line x1="418.10" y1="331.00" x2="449.90" y2="331.00" stroke="#000" stroke-width="2.3" stroke-dasharray="7 5" stroke-dashoffset="0"/>
<path d="M524.60,378.70 L523.76,379.03 L523.36,379.36 L523.06,379.69 L522.83,380.02 L522.62,380.35 L522.42,380.68 L522.19,381.01 L521.93,381.34 L521.69,381.68 L521.44,382.01 L521.19,382.34 L520.95,382.67 L520.70,383.00 L520.44,383.33 L520.16,383.66 L519.82,383.99 L519.45,384.32 L519.08,384.65 L518.77,384.98 L518.57,385.31 L518.50,385.64 L518.55,385.97 L518.64,386.30 L518.76,386.63 L518.86,386.96 L518.91,387.29 L518.94,387.62 L518.97,387.96 L518.99,388.29 L519.00,388.62 L518.93,388.95 L518.76,389.28 L518.52,389.61 L518.25,389.94 L517.92,390.27 L517.46,390.60 L516.90,390.93 L516.28,391.26 L515.53,391.59 L514.61,391.92 L513.64,392.25 L512.74,392.58 L511.92,392.91 L511.12,393.24 L510.42,393.58 L509.84,393.91 L509.32,394.24 L509.16,394.57 L509.42,394.90 L509.91,395.23 L510.53,395.56 L511.53,395.89 L512.66,396.22 L513.62,396.55 L514.53,396.88 L515.34,397.21 L515.93,397.54 L516.43,397.87 L516.84,398.20 L517.15,398.53 L517.37,398.86 L517.56,399.19 L517.72,399.52 L517.85,399.86 L517.96,400.19 L518.06,400.52 L518.13,400.85 L518.18,401.18 L518.24,401.51 L518.34,401.84 L518.52,402.17 L518.90,402.50 L533.30,402.50 L533.68,402.17 L533.86,401.84 L533.96,401.51 L534.02,401.18 L534.07,400.85 L534.14,400.52 L534.24,400.19 L534.35,399.86 L534.48,399.52 L534.64,399.19 L534.83,398.86 L535.05,398.53 L535.36,398.20 L535.77,397.87 L536.27,397.54 L536.86,397.21 L537.67,396.88 L538.58,396.55 L539.54,396.22 L540.67,395.89 L541.67,395.56 L542.29,395.23 L542.78,394.90 L543.04,394.57 L542.88,394.24 L542.36,393.91 L541.78,393.58 L541.08,393.24 L540.28,392.91 L539.46,392.58 L538.56,392.25 L537.59,391.92 L536.67,391.59 L535.92,391.26 L535.30,390.93 L534.74,390.60 L534.28,390.27 L533.95,389.94 L533.68,389.61 L533.44,389.28 L533.27,388.95 L533.20,388.62 L533.21,388.29 L533.23,387.96 L533.26,387.62 L533.29,387.29 L533.34,386.96 L533.44,386.63 L533.56,386.30 L533.65,385.97 L533.70,385.64 L533.63,385.31 L533.43,384.98 L533.12,384.65 L532.75,384.32 L532.38,383.99 L532.04,383.66 L531.76,383.33 L531.50,383.00 L531.25,382.67 L531.01,382.34 L530.76,382.01 L530.51,381.68 L530.27,381.34 L530.01,381.01 L529.78,380.68 L529.58,380.35 L529.37,380.02 L529.14,379.69 L528.84,379.36 L528.44,379.03 L527.60,378.70 Z" fill="#FDDE8A" stroke="#000" stroke-width="2.2" stroke-linejoin="round"/>
<line x1="521.90" y1="388.20" x2="530.30" y2="388.20" stroke="#000" stroke-width="1.15" stroke-dasharray="1.15 2.35"/>
<line x1="519.70" y1="397.50" x2="532.50" y2="397.50" stroke="#000" stroke-width="1.15" stroke-dasharray="1.15 2.35"/>
<line x1="508.30" y1="393.70" x2="543.90" y2="393.70" stroke="#000" stroke-width="2.3" stroke-dasharray="7 5" stroke-dashoffset="0"/>
<path d="M581.05,363.20 L580.85,363.53 L580.66,363.86 L580.49,364.20 L580.34,364.53 L580.21,364.86 L580.09,365.19 L579.98,365.52 L579.88,365.85 L579.78,366.19 L579.68,366.52 L579.58,366.85 L579.47,367.18 L579.36,367.51 L579.23,367.84 L579.09,368.18 L578.94,368.51 L578.79,368.84 L578.62,369.17 L578.45,369.50 L578.28,369.83 L578.12,370.17 L577.95,370.50 L577.77,370.83 L577.59,371.16 L577.42,371.49 L577.23,371.83 L577.05,372.16 L576.87,372.49 L576.68,372.82 L576.51,373.15 L576.34,373.48 L576.16,373.82 L575.98,374.15 L575.77,374.48 L575.54,374.81 L575.28,375.14 L574.98,375.47 L574.65,375.81 L574.29,376.14 L573.90,376.47 L573.48,376.80 L573.02,377.13 L572.48,377.46 L571.89,377.80 L571.25,378.13 L570.60,378.46 L569.96,378.79 L569.31,379.12 L568.62,379.45 L567.91,379.79 L567.22,380.12 L566.60,380.45 L566.05,380.78 L565.47,381.11 L564.91,381.45 L564.48,381.78 L564.26,382.11 L564.28,382.44 L564.43,382.77 L564.67,383.10 L564.98,383.44 L565.44,383.77 L566.48,384.10 L567.79,384.43 L568.95,384.76 L569.89,385.09 L570.79,385.43 L571.24,385.76 L571.12,386.09 L570.75,386.42 L570.27,386.75 L569.85,387.08 L569.40,387.42 L568.91,387.75 L568.45,388.08 L568.09,388.41 L567.87,388.74 L567.70,389.07 L567.54,389.41 L567.41,389.74 L567.31,390.07 L567.26,390.40 L567.26,390.73 L567.39,391.07 L567.62,391.40 L567.95,391.73 L568.33,392.06 L568.74,392.39 L569.28,392.72 L570.03,393.06 L570.91,393.39 L571.83,393.72 L572.80,394.05 L573.92,394.38 L575.03,394.71 L575.97,395.05 L576.80,395.38 L577.59,395.71 L578.25,396.04 L578.72,396.37 L578.96,396.70 L579.10,397.04 L579.29,397.37 L579.95,397.70 L582.95,397.70 L583.61,397.37 L583.80,397.04 L583.94,396.70 L584.18,396.37 L584.65,396.04 L585.31,395.71 L586.10,395.38 L586.93,395.05 L587.87,394.71 L588.98,394.38 L590.10,394.05 L591.07,393.72 L591.99,393.39 L592.87,393.06 L593.62,392.72 L594.16,392.39 L594.57,392.06 L594.95,391.73 L595.28,391.40 L595.51,391.07 L595.64,390.73 L595.64,390.40 L595.59,390.07 L595.49,389.74 L595.36,389.41 L595.20,389.07 L595.03,388.74 L594.81,388.41 L594.45,388.08 L593.99,387.75 L593.50,387.42 L593.05,387.08 L592.63,386.75 L592.15,386.42 L591.78,386.09 L591.66,385.76 L592.11,385.43 L593.01,385.09 L593.95,384.76 L595.11,384.43 L596.42,384.10 L597.46,383.77 L597.92,383.44 L598.23,383.10 L598.47,382.77 L598.62,382.44 L598.64,382.11 L598.42,381.78 L597.99,381.45 L597.43,381.11 L596.85,380.78 L596.30,380.45 L595.68,380.12 L594.99,379.79 L594.28,379.45 L593.59,379.12 L592.94,378.79 L592.30,378.46 L591.65,378.13 L591.01,377.80 L590.42,377.46 L589.88,377.13 L589.42,376.80 L589.00,376.47 L588.61,376.14 L588.25,375.81 L587.92,375.47 L587.62,375.14 L587.36,374.81 L587.13,374.48 L586.92,374.15 L586.74,373.82 L586.56,373.48 L586.39,373.15 L586.22,372.82 L586.03,372.49 L585.85,372.16 L585.67,371.83 L585.48,371.49 L585.31,371.16 L585.13,370.83 L584.95,370.50 L584.78,370.17 L584.62,369.83 L584.45,369.50 L584.28,369.17 L584.11,368.84 L583.96,368.51 L583.81,368.18 L583.67,367.84 L583.54,367.51 L583.43,367.18 L583.32,366.85 L583.22,366.52 L583.12,366.19 L583.02,365.85 L582.92,365.52 L582.81,365.19 L582.69,364.86 L582.56,364.53 L582.41,364.20 L582.24,363.86 L582.05,363.53 L581.85,363.20 Z" fill="#9FE2B7" stroke="#000" stroke-width="2.2" stroke-linejoin="round"/>
<line x1="575.35" y1="378.90" x2="587.55" y2="378.90" stroke="#000" stroke-width="1.15" stroke-dasharray="1.15 2.35"/>
<line x1="571.65" y1="389.20" x2="591.25" y2="389.20" stroke="#000" stroke-width="1.15" stroke-dasharray="1.15 2.35"/>
<line x1="564.20" y1="383.50" x2="598.70" y2="383.50" stroke="#000" stroke-width="2.3" stroke-dasharray="7 5" stroke-dashoffset="0"/>
<path d="M634.40,363.30 L633.81,363.63 L633.24,363.96 L632.71,364.29 L632.15,364.62 L631.55,364.95 L631.08,365.28 L630.90,365.61 L630.90,365.94 L630.90,366.27 L630.90,366.60 L630.90,366.93 L630.92,367.26 L630.97,367.59 L631.06,367.92 L631.16,368.25 L631.28,368.58 L631.39,368.91 L631.49,369.24 L631.56,369.57 L631.60,369.90 L631.60,370.23 L631.57,370.56 L631.52,370.89 L631.08,371.22 L629.63,371.55 L627.29,371.88 L624.97,372.21 L624.00,372.54 L623.60,372.87 L623.87,373.20 L624.48,373.53 L625.20,373.86 L625.85,374.19 L626.29,374.52 L626.43,374.85 L626.48,375.18 L626.50,375.52 L626.47,375.85 L626.33,376.18 L626.09,376.51 L625.49,376.84 L623.96,377.17 L621.89,377.50 L620.53,377.83 L619.81,378.16 L619.63,378.49 L620.14,378.82 L621.22,379.15 L623.47,379.48 L626.46,379.81 L629.96,380.14 L631.72,380.47 L632.60,380.80 L632.81,381.13 L632.93,381.46 L633.03,381.79 L633.14,382.12 L633.26,382.45 L633.38,382.78 L633.49,383.11 L633.59,383.44 L633.70,383.77 L633.80,384.10 L633.91,384.43 L634.02,384.76 L634.12,385.09 L634.21,385.42 L634.31,385.75 L634.42,386.08 L634.56,386.41 L634.74,386.74 L635.00,387.07 L635.30,387.40 L638.50,387.40 L638.80,387.07 L639.06,386.74 L639.24,386.41 L639.38,386.08 L639.49,385.75 L639.59,385.42 L639.68,385.09 L639.78,384.76 L639.89,384.43 L640.00,384.10 L640.10,383.77 L640.21,383.44 L640.31,383.11 L640.42,382.78 L640.54,382.45 L640.66,382.12 L640.77,381.79 L640.87,381.46 L640.99,381.13 L641.20,380.80 L642.08,380.47 L643.84,380.14 L647.34,379.81 L650.33,379.48 L652.58,379.15 L653.66,378.82 L654.17,378.49 L653.99,378.16 L653.27,377.83 L651.91,377.50 L649.84,377.17 L648.31,376.84 L647.71,376.51 L647.47,376.18 L647.33,375.85 L647.30,375.52 L647.32,375.18 L647.37,374.85 L647.51,374.52 L647.95,374.19 L648.60,373.86 L649.32,373.53 L649.93,373.20 L650.20,372.87 L649.80,372.54 L648.83,372.21 L646.51,371.88 L644.17,371.55 L642.72,371.22 L642.28,370.89 L642.23,370.56 L642.20,370.23 L642.20,369.90 L642.24,369.57 L642.31,369.24 L642.41,368.91 L642.52,368.58 L642.64,368.25 L642.74,367.92 L642.83,367.59 L642.88,367.26 L642.90,366.93 L642.90,366.60 L642.90,366.27 L642.90,365.94 L642.90,365.61 L642.72,365.28 L642.25,364.95 L641.65,364.62 L641.09,364.29 L640.56,363.96 L639.99,363.63 L639.40,363.30 Z" fill="#B3B3D0" stroke="#000" stroke-width="2.2" stroke-linejoin="round"/>
<line x1="634.50" y1="372.10" x2="639.30" y2="372.10" stroke="#000" stroke-width="1.15" stroke-dasharray="1.15 2.35"/>
<line x1="626.30" y1="379.00" x2="647.50" y2="379.00" stroke="#000" stroke-width="1.15" stroke-dasharray="1.15 2.35"/>
<line x1="625.30" y1="376.00" x2="648.50" y2="376.00" stroke="#000" stroke-width="2.3" stroke-dasharray="7 5" stroke-dashoffset="0"/>
<path d="M118.20,116.90 V111.70 H231.80 V116.90" fill="none" stroke="#000" stroke-width="2.4" stroke-linejoin="miter"/>
<g fill="#000" stroke="#000" stroke-width="0.5" stroke-linejoin="round"><polygon points="175.10,96.10 175.53,91.70 173.57,91.70 174.00,96.10"/><polygon points="174.00,96.10 173.57,100.50 175.53,100.50 175.10,96.10"/><polygon points="174.80,96.59 179.00,94.93 178.11,93.18 174.30,95.61"/><polygon points="174.30,96.59 178.11,99.02 179.00,97.27 174.80,95.61"/><polygon points="174.80,95.61 170.99,93.18 170.10,94.93 174.30,96.59"/><polygon points="174.30,95.61 170.10,97.27 170.99,99.02 174.80,96.59"/></g>
<path d="M175.40,145.90 V141.10 H231.80 V145.90" fill="none" stroke="#000" stroke-width="2.4" stroke-linejoin="miter"/>
<g fill="#000" stroke="#000" stroke-width="0.5" stroke-linejoin="round"><polygon points="203.45,125.90 203.88,121.50 201.92,121.50 202.35,125.90"/><polygon points="202.35,125.90 201.92,130.30 203.88,130.30 203.45,125.90"/><polygon points="203.15,126.39 207.35,124.73 206.46,122.98 202.65,125.41"/><polygon points="202.65,126.39 206.46,128.82 207.35,127.07 203.15,125.41"/><polygon points="203.15,125.41 199.34,122.98 198.45,124.73 202.65,126.39"/><polygon points="202.65,125.41 198.45,127.07 199.34,128.82 203.15,126.39"/></g>
<path d="M321.60,116.90 V111.70 H434.80 V116.90" fill="none" stroke="#000" stroke-width="2.4" stroke-linejoin="miter"/>
<g fill="#000" stroke="#000" stroke-width="0.5" stroke-linejoin="round"><polygon points="378.35,96.10 378.78,91.70 376.82,91.70 377.25,96.10"/><polygon points="377.25,96.10 376.82,100.50 378.78,100.50 378.35,96.10"/><polygon points="378.05,96.59 382.25,94.93 381.36,93.18 377.55,95.61"/><polygon points="377.55,96.59 381.36,99.02 382.25,97.27 378.05,95.61"/><polygon points="378.05,95.61 374.24,93.18 373.35,94.93 377.55,96.59"/><polygon points="377.55,95.61 373.35,97.27 374.24,99.02 378.05,96.59"/></g>
<path d="M525.20,116.90 V111.70 H638.60 V116.90" fill="none" stroke="#000" stroke-width="2.4" stroke-linejoin="miter"/>
<g fill="#000" stroke="#000" stroke-width="0.5" stroke-linejoin="round"><polygon points="582.15,96.10 582.58,91.70 580.62,91.70 581.05,96.10"/><polygon points="581.05,96.10 580.62,100.50 582.58,100.50 582.15,96.10"/><polygon points="581.85,96.59 586.05,94.93 585.16,93.18 581.35,95.61"/><polygon points="581.35,96.59 585.16,99.02 586.05,97.27 581.85,95.61"/><polygon points="581.85,95.61 578.04,93.18 577.15,94.93 581.35,96.59"/><polygon points="581.35,95.61 577.15,97.27 578.04,99.02 581.85,96.59"/></g>
<path d="M581.80,145.90 V141.20 H638.60 V145.90" fill="none" stroke="#000" stroke-width="2.4" stroke-linejoin="miter"/>
<g fill="#000" stroke="#000" stroke-width="0.5" stroke-linejoin="round"><polygon points="610.25,125.90 610.68,121.50 608.72,121.50 609.15,125.90"/><polygon points="609.15,125.90 608.72,130.30 610.68,130.30 610.25,125.90"/><polygon points="609.95,126.39 614.15,124.73 613.26,122.98 609.45,125.41"/><polygon points="609.45,126.39 613.26,128.82 614.15,127.07 609.95,125.41"/><polygon points="609.95,125.41 606.14,122.98 605.25,124.73 609.45,126.39"/><polygon points="609.45,125.41 605.25,127.07 606.14,128.82 609.95,126.39"/></g>
<path d="M524.20,161.10 V156.50 H580.50 V161.10" fill="none" stroke="#000" stroke-width="2.4" stroke-linejoin="miter"/>
<g fill="#000" stroke="#000" stroke-width="0.5" stroke-linejoin="round"><polygon points="552.25,140.20 552.68,135.80 550.72,135.80 551.15,140.20"/><polygon points="551.15,140.20 550.72,144.60 552.68,144.60 552.25,140.20"/><polygon points="551.95,140.69 556.15,139.03 555.26,137.28 551.45,139.71"/><polygon points="551.45,140.69 555.26,143.12 556.15,141.37 551.95,139.71"/><polygon points="551.95,139.71 548.14,137.28 547.25,139.03 551.45,140.69"/><polygon points="551.45,139.71 547.25,141.37 548.14,143.12 551.95,140.69"/></g>
<rect x="568.15" y="21.45" width="22.9" height="10.2" fill="#FDDE8A" stroke="#000" stroke-width="2.3"/>
<rect x="568.15" y="45.60" width="22.9" height="10.2" fill="#9FE2B7" stroke="#000" stroke-width="2.3"/>
<rect x="568.15" y="69.75" width="22.9" height="10.2" fill="#B3B3D0" stroke="#000" stroke-width="2.3"/>
<text x="607.2" y="32.70" font-family="Liberation Sans, sans-serif" stroke="#111" stroke-width="0.3" stroke-linejoin="round" font-size="20.1" textLength="61.7" lengthAdjust="spacingAndGlyphs" fill="#111">Control</text>
<text x="607.2" y="56.75" font-family="Liberation Sans, sans-serif" stroke="#111" stroke-width="0.3" stroke-linejoin="round" font-size="20.1" textLength="28.3" lengthAdjust="spacingAndGlyphs" fill="#111">EM</text>
<text x="607.2" y="80.80" font-family="Liberation Sans, sans-serif" stroke="#111" stroke-width="0.3" stroke-linejoin="round" font-size="20.1" textLength="29.8" lengthAdjust="spacingAndGlyphs" fill="#111">CM</text>
<text x="70.8" y="423.90" font-family="Liberation Sans, sans-serif" stroke="#111" stroke-width="0.3" stroke-linejoin="round" font-size="20" font-weight="bold" text-anchor="end" fill="#111">0.0</text>
<text x="70.8" y="288.57" font-family="Liberation Sans, sans-serif" stroke="#111" stroke-width="0.3" stroke-linejoin="round" font-size="20" font-weight="bold" text-anchor="end" fill="#111">0.1</text>
<text x="70.8" y="153.23" font-family="Liberation Sans, sans-serif" stroke="#111" stroke-width="0.3" stroke-linejoin="round" font-size="20" font-weight="bold" text-anchor="end" fill="#111">0.2</text>
<text x="70.8" y="17.90" font-family="Liberation Sans, sans-serif" stroke="#111" stroke-width="0.3" stroke-linejoin="round" font-size="20" font-weight="bold" text-anchor="end" fill="#111">0.3</text>
<text x="175.6" y="446.6" font-family="Liberation Sans, sans-serif" stroke="#111" stroke-width="0.3" stroke-linejoin="round" font-size="20.2" font-weight="bold" text-anchor="middle" fill="#111">Putamen</text>
<text x="378.4" y="446.6" font-family="Liberation Sans, sans-serif" stroke="#111" stroke-width="0.3" stroke-linejoin="round" font-size="20.2" font-weight="bold" text-anchor="middle" fill="#111">Caudate</text>
<text x="581.2" y="446.6" font-family="Liberation Sans, sans-serif" stroke="#111" stroke-width="0.3" stroke-linejoin="round" font-size="20.2" font-weight="bold" text-anchor="middle" fill="#111">Nucleus Accumbens</text>
<text transform="translate(19.2,213) rotate(-90)" font-family="Liberation Sans, sans-serif" stroke="#111" stroke-width="0.3" stroke-linejoin="round" font-size="23" font-weight="bold" text-anchor="middle" fill="#111">QSM value (ppm)</text>
</svg>
</body></html>
